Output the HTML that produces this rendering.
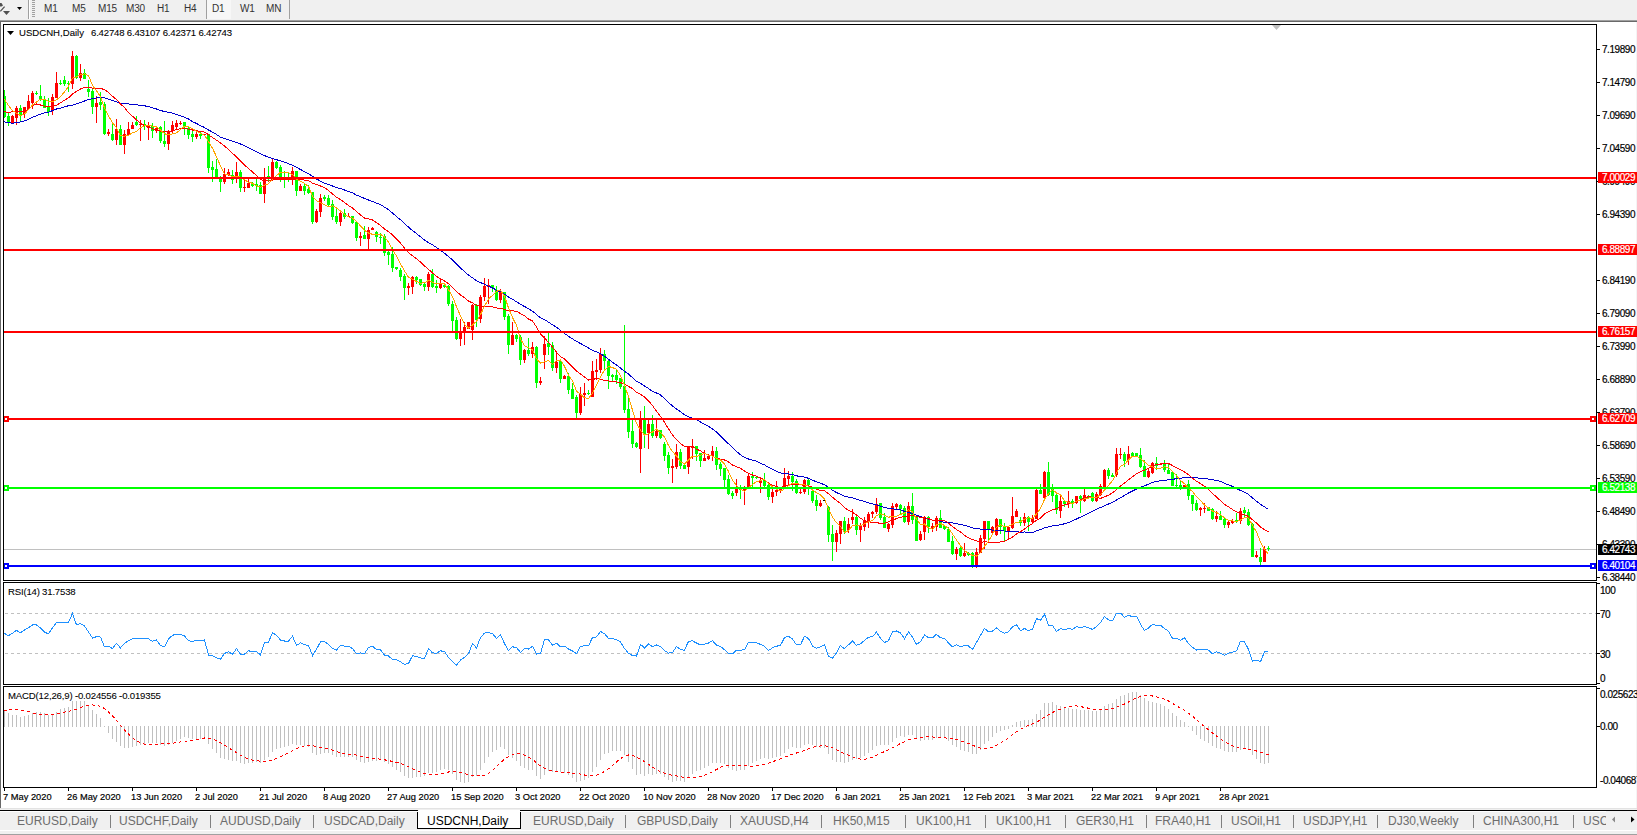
<!DOCTYPE html>
<html><head><meta charset="utf-8"><style>
*{margin:0;padding:0;box-sizing:border-box}
html,body{width:1637px;height:835px;overflow:hidden;background:#f0f0f0;font-family:"Liberation Sans",sans-serif;}
.ax{font-size:10px;letter-spacing:-0.44px;fill:#000;stroke:#000;stroke-width:0.18px;font-family:"Liberation Sans",sans-serif;}
.tt{font-size:9.6px;fill:#000;stroke:#000;stroke-width:0.08px;font-family:"Liberation Sans",sans-serif;}
#tb{position:absolute;left:0;top:0;width:1637px;height:19px;background:#f0f0f0}
.tbt{position:absolute;top:3px;font-size:10px;line-height:12px;color:#333;letter-spacing:-0.2px}
#cw{position:absolute;left:0;top:20px;width:1637px;height:789px;background:#fff;border-top:1px solid #a0a0a0}
#tabbar{position:absolute;left:0;top:810px;width:1637px;height:25px;background:#f0f0f0;border-top:1px solid #000}
.tab{position:absolute;top:3px;font-size:12px;line-height:14px;color:#6d6d6d;white-space:nowrap}
.tab.act{color:#000}
.sep{position:absolute;top:4px;width:1px;height:13px;background:#808080}
</style></head><body>
<div id="tb"><div class="tbt" style="left:44px">M1</div><div class="tbt" style="left:72px">M5</div><div class="tbt" style="left:98px">M15</div><div class="tbt" style="left:126px">M30</div><div class="tbt" style="left:157px">H1</div><div class="tbt" style="left:184px">H4</div><div class="tbt" style="left:212px">D1</div><div class="tbt" style="left:240px">W1</div><div class="tbt" style="left:266px">MN</div>
<svg width="40" height="19" style="position:absolute;left:0;top:0">
<polygon points="0,3 1.5,3 3,5.5 1.5,6.5 0,6.5" fill="#505050"/>
<line x1="0.3" y1="11.3" x2="4.6" y2="6.6" stroke="#505050" stroke-width="1.3"/>
<polygon points="3,11 10,11 6.5,15" fill="#505050"/>
<polygon points="17,7 22,7 19.5,10" fill="#000"/>
<g fill="#a0a0a0"><rect x="32" y="0" width="3" height="1"/><rect x="32" y="2" width="3" height="1"/><rect x="32" y="4" width="3" height="1"/><rect x="32" y="6" width="3" height="1"/><rect x="32" y="8" width="3" height="1"/><rect x="32" y="10" width="3" height="1"/><rect x="32" y="12" width="3" height="1"/><rect x="32" y="14" width="3" height="1"/><rect x="32" y="16" width="3" height="1"/></g>
</svg>
<div style="position:absolute;left:28px;top:0;width:1px;height:19px;background:#a0a0a0"></div>
<div style="position:absolute;left:29px;top:0;width:1px;height:19px;background:#fff"></div>
<div style="position:absolute;left:206px;top:0;width:25px;height:19px;background:#f7f7f7;border-left:1px solid #a0a0a0"></div>
<div class="tbt" style="left:212px">D1</div>
<div style="position:absolute;left:289px;top:0;width:1px;height:19px;background:#a0a0a0"></div>
</div>
<div id="cw">
<div style="position:absolute;left:0;top:0;width:1px;height:788px;background:#696969"></div>
<div style="position:absolute;left:0;top:0;width:1637px;height:1px;background:#696969"></div>
<div style="position:absolute;left:0;top:787px;width:1637px;height:1px;background:#e3e3e3"></div>
<div style="position:absolute;left:1636px;top:1px;width:1px;height:786px;background:#f4f4f4"></div>
</div>
<div id="tabbar">
<div style="position:absolute;left:417px;top:-1px;width:104px;height:19px;background:#fff;border:1px solid #000;border-top:none"></div>
<div class="tab" style="left:17px">EURUSD,Daily</div><div class="tab" style="left:119px">USDCHF,Daily</div><div class="tab" style="left:220px">AUDUSD,Daily</div><div class="tab" style="left:324px">USDCAD,Daily</div><div class="tab act" style="left:427px">USDCNH,Daily</div><div class="tab" style="left:533px">EURUSD,Daily</div><div class="tab" style="left:637px">GBPUSD,Daily</div><div class="tab" style="left:740px">XAUUSD,H4</div><div class="tab" style="left:833px">HK50,M15</div><div class="tab" style="left:916px">UK100,H1</div><div class="tab" style="left:996px">UK100,H1</div><div class="tab" style="left:1076px">GER30,H1</div><div class="tab" style="left:1155px">FRA40,H1</div><div class="tab" style="left:1231px">USOil,H1</div><div class="tab" style="left:1303px">USDJPY,H1</div><div class="tab" style="left:1388px">DJ30,Weekly</div><div class="tab" style="left:1483px">CHINA300,H1</div><div class="tab" style="left:1583px">USC</div><div class="sep" style="left:110px"></div><div class="sep" style="left:210px"></div><div class="sep" style="left:313px"></div><div class="sep" style="left:625px"></div><div class="sep" style="left:730px"></div><div class="sep" style="left:821px"></div><div class="sep" style="left:905px"></div><div class="sep" style="left:985px"></div><div class="sep" style="left:1065px"></div><div class="sep" style="left:1146px"></div><div class="sep" style="left:1221px"></div><div class="sep" style="left:1293px"></div><div class="sep" style="left:1377px"></div><div class="sep" style="left:1473px"></div><div class="sep" style="left:1573px"></div>
<div style="position:absolute;left:0;top:19px;width:1637px;height:1px;background:#fff"></div>
<div style="position:absolute;left:0;top:0;width:1637px;height:1px;background:#fff"></div>
<div style="position:absolute;left:1606px;top:0;width:31px;height:19px;background:#f0f0f0"></div>
<svg width="30" height="20" style="position:absolute;left:1607px;top:0"><polygon points="5,8.5 8,5.5 8,11.5" fill="#888"/><polygon points="24,5.5 24,11.5 27.5,8.5" fill="#000"/></svg>
<div style="position:absolute;left:0;top:23px;width:1637px;height:2px;background:#a0a0a0"></div>
</div>
<svg width="1637" height="835" style="position:absolute;left:0;top:0">
<g shape-rendering="crispEdges"><rect x="4" y="549" width="1592" height="1" fill="#c0c0c0"/><line x1="5" y1="613.5" x2="1596" y2="613.5" stroke="#c0c0c0" stroke-dasharray="3,3"/><line x1="5" y1="653.5" x2="1596" y2="653.5" stroke="#c0c0c0" stroke-dasharray="3,3"/><rect x="4" y="710" width="1" height="17" fill="#c0c0c0"/><rect x="8" y="713" width="1" height="14" fill="#c0c0c0"/><rect x="12" y="715" width="1" height="12" fill="#c0c0c0"/><rect x="16" y="715" width="1" height="12" fill="#c0c0c0"/><rect x="20" y="717" width="1" height="10" fill="#c0c0c0"/><rect x="24" y="716" width="1" height="11" fill="#c0c0c0"/><rect x="28" y="715" width="1" height="12" fill="#c0c0c0"/><rect x="32" y="713" width="1" height="14" fill="#c0c0c0"/><rect x="36" y="712" width="1" height="15" fill="#c0c0c0"/><rect x="40" y="712" width="1" height="15" fill="#c0c0c0"/><rect x="44" y="713" width="1" height="14" fill="#c0c0c0"/><rect x="48" y="715" width="1" height="12" fill="#c0c0c0"/><rect x="52" y="715" width="1" height="12" fill="#c0c0c0"/><rect x="56" y="712" width="1" height="15" fill="#c0c0c0"/><rect x="60" y="709" width="1" height="18" fill="#c0c0c0"/><rect x="64" y="708" width="1" height="19" fill="#c0c0c0"/><rect x="68" y="707" width="1" height="20" fill="#c0c0c0"/><rect x="72" y="701" width="1" height="26" fill="#c0c0c0"/><rect x="76" y="701" width="1" height="26" fill="#c0c0c0"/><rect x="80" y="701" width="1" height="26" fill="#c0c0c0"/><rect x="84" y="701" width="1" height="26" fill="#c0c0c0"/><rect x="88" y="705" width="1" height="22" fill="#c0c0c0"/><rect x="92" y="710" width="1" height="17" fill="#c0c0c0"/><rect x="96" y="714" width="1" height="13" fill="#c0c0c0"/><rect x="100" y="718" width="1" height="9" fill="#c0c0c0"/><rect x="104" y="726" width="1" height="1" fill="#c0c0c0"/><rect x="108" y="726" width="1" height="7" fill="#c0c0c0"/><rect x="112" y="726" width="1" height="13" fill="#c0c0c0"/><rect x="116" y="726" width="1" height="16" fill="#c0c0c0"/><rect x="120" y="726" width="1" height="20" fill="#c0c0c0"/><rect x="124" y="726" width="1" height="22" fill="#c0c0c0"/><rect x="128" y="726" width="1" height="22" fill="#c0c0c0"/><rect x="132" y="726" width="1" height="21" fill="#c0c0c0"/><rect x="136" y="726" width="1" height="20" fill="#c0c0c0"/><rect x="140" y="726" width="1" height="19" fill="#c0c0c0"/><rect x="144" y="726" width="1" height="18" fill="#c0c0c0"/><rect x="148" y="726" width="1" height="17" fill="#c0c0c0"/><rect x="152" y="726" width="1" height="17" fill="#c0c0c0"/><rect x="156" y="726" width="1" height="17" fill="#c0c0c0"/><rect x="160" y="726" width="1" height="19" fill="#c0c0c0"/><rect x="164" y="726" width="1" height="20" fill="#c0c0c0"/><rect x="168" y="726" width="1" height="19" fill="#c0c0c0"/><rect x="172" y="726" width="1" height="17" fill="#c0c0c0"/><rect x="176" y="726" width="1" height="15" fill="#c0c0c0"/><rect x="180" y="726" width="1" height="13" fill="#c0c0c0"/><rect x="184" y="726" width="1" height="11" fill="#c0c0c0"/><rect x="188" y="726" width="1" height="12" fill="#c0c0c0"/><rect x="192" y="726" width="1" height="13" fill="#c0c0c0"/><rect x="196" y="726" width="1" height="13" fill="#c0c0c0"/><rect x="200" y="726" width="1" height="13" fill="#c0c0c0"/><rect x="204" y="726" width="1" height="12" fill="#c0c0c0"/><rect x="208" y="726" width="1" height="18" fill="#c0c0c0"/><rect x="212" y="726" width="1" height="23" fill="#c0c0c0"/><rect x="216" y="726" width="1" height="27" fill="#c0c0c0"/><rect x="220" y="726" width="1" height="32" fill="#c0c0c0"/><rect x="224" y="726" width="1" height="33" fill="#c0c0c0"/><rect x="228" y="726" width="1" height="34" fill="#c0c0c0"/><rect x="232" y="726" width="1" height="35" fill="#c0c0c0"/><rect x="236" y="726" width="1" height="35" fill="#c0c0c0"/><rect x="240" y="726" width="1" height="37" fill="#c0c0c0"/><rect x="244" y="726" width="1" height="38" fill="#c0c0c0"/><rect x="248" y="726" width="1" height="37" fill="#c0c0c0"/><rect x="252" y="726" width="1" height="37" fill="#c0c0c0"/><rect x="256" y="726" width="1" height="36" fill="#c0c0c0"/><rect x="260" y="726" width="1" height="37" fill="#c0c0c0"/><rect x="264" y="726" width="1" height="34" fill="#c0c0c0"/><rect x="268" y="726" width="1" height="31" fill="#c0c0c0"/><rect x="272" y="726" width="1" height="26" fill="#c0c0c0"/><rect x="276" y="726" width="1" height="23" fill="#c0c0c0"/><rect x="280" y="726" width="1" height="22" fill="#c0c0c0"/><rect x="284" y="726" width="1" height="21" fill="#c0c0c0"/><rect x="288" y="726" width="1" height="20" fill="#c0c0c0"/><rect x="292" y="726" width="1" height="18" fill="#c0c0c0"/><rect x="296" y="726" width="1" height="19" fill="#c0c0c0"/><rect x="300" y="726" width="1" height="19" fill="#c0c0c0"/><rect x="304" y="726" width="1" height="20" fill="#c0c0c0"/><rect x="308" y="726" width="1" height="21" fill="#c0c0c0"/><rect x="312" y="726" width="1" height="27" fill="#c0c0c0"/><rect x="316" y="726" width="1" height="29" fill="#c0c0c0"/><rect x="320" y="726" width="1" height="28" fill="#c0c0c0"/><rect x="324" y="726" width="1" height="27" fill="#c0c0c0"/><rect x="328" y="726" width="1" height="27" fill="#c0c0c0"/><rect x="332" y="726" width="1" height="29" fill="#c0c0c0"/><rect x="336" y="726" width="1" height="31" fill="#c0c0c0"/><rect x="340" y="726" width="1" height="31" fill="#c0c0c0"/><rect x="344" y="726" width="1" height="31" fill="#c0c0c0"/><rect x="348" y="726" width="1" height="31" fill="#c0c0c0"/><rect x="352" y="726" width="1" height="31" fill="#c0c0c0"/><rect x="356" y="726" width="1" height="34" fill="#c0c0c0"/><rect x="360" y="726" width="1" height="36" fill="#c0c0c0"/><rect x="364" y="726" width="1" height="37" fill="#c0c0c0"/><rect x="368" y="726" width="1" height="36" fill="#c0c0c0"/><rect x="372" y="726" width="1" height="35" fill="#c0c0c0"/><rect x="376" y="726" width="1" height="35" fill="#c0c0c0"/><rect x="380" y="726" width="1" height="34" fill="#c0c0c0"/><rect x="384" y="726" width="1" height="36" fill="#c0c0c0"/><rect x="388" y="726" width="1" height="38" fill="#c0c0c0"/><rect x="392" y="726" width="1" height="41" fill="#c0c0c0"/><rect x="396" y="726" width="1" height="44" fill="#c0c0c0"/><rect x="400" y="726" width="1" height="46" fill="#c0c0c0"/><rect x="404" y="726" width="1" height="50" fill="#c0c0c0"/><rect x="408" y="726" width="1" height="52" fill="#c0c0c0"/><rect x="412" y="726" width="1" height="52" fill="#c0c0c0"/><rect x="416" y="726" width="1" height="51" fill="#c0c0c0"/><rect x="420" y="726" width="1" height="51" fill="#c0c0c0"/><rect x="424" y="726" width="1" height="50" fill="#c0c0c0"/><rect x="428" y="726" width="1" height="47" fill="#c0c0c0"/><rect x="432" y="726" width="1" height="47" fill="#c0c0c0"/><rect x="436" y="726" width="1" height="46" fill="#c0c0c0"/><rect x="440" y="726" width="1" height="44" fill="#c0c0c0"/><rect x="444" y="726" width="1" height="43" fill="#c0c0c0"/><rect x="448" y="726" width="1" height="44" fill="#c0c0c0"/><rect x="452" y="726" width="1" height="48" fill="#c0c0c0"/><rect x="456" y="726" width="1" height="54" fill="#c0c0c0"/><rect x="460" y="726" width="1" height="56" fill="#c0c0c0"/><rect x="464" y="726" width="1" height="57" fill="#c0c0c0"/><rect x="468" y="726" width="1" height="56" fill="#c0c0c0"/><rect x="472" y="726" width="1" height="51" fill="#c0c0c0"/><rect x="476" y="726" width="1" height="50" fill="#c0c0c0"/><rect x="480" y="726" width="1" height="44" fill="#c0c0c0"/><rect x="484" y="726" width="1" height="37" fill="#c0c0c0"/><rect x="488" y="726" width="1" height="31" fill="#c0c0c0"/><rect x="492" y="726" width="1" height="26" fill="#c0c0c0"/><rect x="496" y="726" width="1" height="24" fill="#c0c0c0"/><rect x="500" y="726" width="1" height="21" fill="#c0c0c0"/><rect x="504" y="726" width="1" height="23" fill="#c0c0c0"/><rect x="508" y="726" width="1" height="29" fill="#c0c0c0"/><rect x="512" y="726" width="1" height="32" fill="#c0c0c0"/><rect x="516" y="726" width="1" height="35" fill="#c0c0c0"/><rect x="520" y="726" width="1" height="40" fill="#c0c0c0"/><rect x="524" y="726" width="1" height="42" fill="#c0c0c0"/><rect x="528" y="726" width="1" height="44" fill="#c0c0c0"/><rect x="532" y="726" width="1" height="44" fill="#c0c0c0"/><rect x="536" y="726" width="1" height="50" fill="#c0c0c0"/><rect x="540" y="726" width="1" height="53" fill="#c0c0c0"/><rect x="544" y="726" width="1" height="49" fill="#c0c0c0"/><rect x="548" y="726" width="1" height="45" fill="#c0c0c0"/><rect x="552" y="726" width="1" height="46" fill="#c0c0c0"/><rect x="556" y="726" width="1" height="45" fill="#c0c0c0"/><rect x="560" y="726" width="1" height="46" fill="#c0c0c0"/><rect x="564" y="726" width="1" height="47" fill="#c0c0c0"/><rect x="568" y="726" width="1" height="49" fill="#c0c0c0"/><rect x="572" y="726" width="1" height="52" fill="#c0c0c0"/><rect x="576" y="726" width="1" height="56" fill="#c0c0c0"/><rect x="580" y="726" width="1" height="55" fill="#c0c0c0"/><rect x="584" y="726" width="1" height="54" fill="#c0c0c0"/><rect x="588" y="726" width="1" height="52" fill="#c0c0c0"/><rect x="592" y="726" width="1" height="46" fill="#c0c0c0"/><rect x="596" y="726" width="1" height="41" fill="#c0c0c0"/><rect x="600" y="726" width="1" height="34" fill="#c0c0c0"/><rect x="604" y="726" width="1" height="28" fill="#c0c0c0"/><rect x="608" y="726" width="1" height="27" fill="#c0c0c0"/><rect x="612" y="726" width="1" height="25" fill="#c0c0c0"/><rect x="616" y="726" width="1" height="25" fill="#c0c0c0"/><rect x="620" y="726" width="1" height="25" fill="#c0c0c0"/><rect x="624" y="726" width="1" height="29" fill="#c0c0c0"/><rect x="628" y="726" width="1" height="36" fill="#c0c0c0"/><rect x="632" y="726" width="1" height="43" fill="#c0c0c0"/><rect x="636" y="726" width="1" height="49" fill="#c0c0c0"/><rect x="640" y="726" width="1" height="48" fill="#c0c0c0"/><rect x="644" y="726" width="1" height="50" fill="#c0c0c0"/><rect x="648" y="726" width="1" height="48" fill="#c0c0c0"/><rect x="652" y="726" width="1" height="49" fill="#c0c0c0"/><rect x="656" y="726" width="1" height="48" fill="#c0c0c0"/><rect x="660" y="726" width="1" height="48" fill="#c0c0c0"/><rect x="664" y="726" width="1" height="51" fill="#c0c0c0"/><rect x="668" y="726" width="1" height="54" fill="#c0c0c0"/><rect x="672" y="726" width="1" height="56" fill="#c0c0c0"/><rect x="676" y="726" width="1" height="55" fill="#c0c0c0"/><rect x="680" y="726" width="1" height="55" fill="#c0c0c0"/><rect x="684" y="726" width="1" height="56" fill="#c0c0c0"/><rect x="688" y="726" width="1" height="52" fill="#c0c0c0"/><rect x="692" y="726" width="1" height="48" fill="#c0c0c0"/><rect x="696" y="726" width="1" height="45" fill="#c0c0c0"/><rect x="700" y="726" width="1" height="44" fill="#c0c0c0"/><rect x="704" y="726" width="1" height="42" fill="#c0c0c0"/><rect x="708" y="726" width="1" height="40" fill="#c0c0c0"/><rect x="712" y="726" width="1" height="37" fill="#c0c0c0"/><rect x="716" y="726" width="1" height="37" fill="#c0c0c0"/><rect x="720" y="726" width="1" height="37" fill="#c0c0c0"/><rect x="724" y="726" width="1" height="38" fill="#c0c0c0"/><rect x="728" y="726" width="1" height="42" fill="#c0c0c0"/><rect x="732" y="726" width="1" height="44" fill="#c0c0c0"/><rect x="736" y="726" width="1" height="45" fill="#c0c0c0"/><rect x="740" y="726" width="1" height="44" fill="#c0c0c0"/><rect x="744" y="726" width="1" height="44" fill="#c0c0c0"/><rect x="748" y="726" width="1" height="40" fill="#c0c0c0"/><rect x="752" y="726" width="1" height="37" fill="#c0c0c0"/><rect x="756" y="726" width="1" height="35" fill="#c0c0c0"/><rect x="760" y="726" width="1" height="33" fill="#c0c0c0"/><rect x="764" y="726" width="1" height="32" fill="#c0c0c0"/><rect x="768" y="726" width="1" height="33" fill="#c0c0c0"/><rect x="772" y="726" width="1" height="32" fill="#c0c0c0"/><rect x="776" y="726" width="1" height="31" fill="#c0c0c0"/><rect x="780" y="726" width="1" height="30" fill="#c0c0c0"/><rect x="784" y="726" width="1" height="27" fill="#c0c0c0"/><rect x="788" y="726" width="1" height="23" fill="#c0c0c0"/><rect x="792" y="726" width="1" height="21" fill="#c0c0c0"/><rect x="796" y="726" width="1" height="22" fill="#c0c0c0"/><rect x="800" y="726" width="1" height="22" fill="#c0c0c0"/><rect x="804" y="726" width="1" height="19" fill="#c0c0c0"/><rect x="808" y="726" width="1" height="18" fill="#c0c0c0"/><rect x="812" y="726" width="1" height="19" fill="#c0c0c0"/><rect x="816" y="726" width="1" height="21" fill="#c0c0c0"/><rect x="820" y="726" width="1" height="22" fill="#c0c0c0"/><rect x="824" y="726" width="1" height="22" fill="#c0c0c0"/><rect x="828" y="726" width="1" height="28" fill="#c0c0c0"/><rect x="832" y="726" width="1" height="34" fill="#c0c0c0"/><rect x="836" y="726" width="1" height="36" fill="#c0c0c0"/><rect x="840" y="726" width="1" height="36" fill="#c0c0c0"/><rect x="844" y="726" width="1" height="37" fill="#c0c0c0"/><rect x="848" y="726" width="1" height="36" fill="#c0c0c0"/><rect x="852" y="726" width="1" height="34" fill="#c0c0c0"/><rect x="856" y="726" width="1" height="33" fill="#c0c0c0"/><rect x="860" y="726" width="1" height="32" fill="#c0c0c0"/><rect x="864" y="726" width="1" height="30" fill="#c0c0c0"/><rect x="868" y="726" width="1" height="27" fill="#c0c0c0"/><rect x="872" y="726" width="1" height="24" fill="#c0c0c0"/><rect x="876" y="726" width="1" height="20" fill="#c0c0c0"/><rect x="880" y="726" width="1" height="19" fill="#c0c0c0"/><rect x="884" y="726" width="1" height="19" fill="#c0c0c0"/><rect x="888" y="726" width="1" height="19" fill="#c0c0c0"/><rect x="892" y="726" width="1" height="16" fill="#c0c0c0"/><rect x="896" y="726" width="1" height="12" fill="#c0c0c0"/><rect x="900" y="726" width="1" height="10" fill="#c0c0c0"/><rect x="904" y="726" width="1" height="11" fill="#c0c0c0"/><rect x="908" y="726" width="1" height="9" fill="#c0c0c0"/><rect x="912" y="726" width="1" height="9" fill="#c0c0c0"/><rect x="916" y="726" width="1" height="13" fill="#c0c0c0"/><rect x="920" y="726" width="1" height="15" fill="#c0c0c0"/><rect x="924" y="726" width="1" height="14" fill="#c0c0c0"/><rect x="928" y="726" width="1" height="14" fill="#c0c0c0"/><rect x="932" y="726" width="1" height="14" fill="#c0c0c0"/><rect x="936" y="726" width="1" height="12" fill="#c0c0c0"/><rect x="940" y="726" width="1" height="12" fill="#c0c0c0"/><rect x="944" y="726" width="1" height="12" fill="#c0c0c0"/><rect x="948" y="726" width="1" height="15" fill="#c0c0c0"/><rect x="952" y="726" width="1" height="19" fill="#c0c0c0"/><rect x="956" y="726" width="1" height="21" fill="#c0c0c0"/><rect x="960" y="726" width="1" height="24" fill="#c0c0c0"/><rect x="964" y="726" width="1" height="25" fill="#c0c0c0"/><rect x="968" y="726" width="1" height="26" fill="#c0c0c0"/><rect x="972" y="726" width="1" height="28" fill="#c0c0c0"/><rect x="976" y="726" width="1" height="28" fill="#c0c0c0"/><rect x="980" y="726" width="1" height="24" fill="#c0c0c0"/><rect x="984" y="726" width="1" height="18" fill="#c0c0c0"/><rect x="988" y="726" width="1" height="15" fill="#c0c0c0"/><rect x="992" y="726" width="1" height="11" fill="#c0c0c0"/><rect x="996" y="726" width="1" height="7" fill="#c0c0c0"/><rect x="1000" y="726" width="1" height="5" fill="#c0c0c0"/><rect x="1004" y="726" width="1" height="4" fill="#c0c0c0"/><rect x="1008" y="726" width="1" height="3" fill="#c0c0c0"/><rect x="1012" y="725" width="1" height="2" fill="#c0c0c0"/><rect x="1016" y="722" width="1" height="5" fill="#c0c0c0"/><rect x="1020" y="721" width="1" height="6" fill="#c0c0c0"/><rect x="1024" y="720" width="1" height="7" fill="#c0c0c0"/><rect x="1028" y="720" width="1" height="7" fill="#c0c0c0"/><rect x="1032" y="719" width="1" height="8" fill="#c0c0c0"/><rect x="1036" y="714" width="1" height="13" fill="#c0c0c0"/><rect x="1040" y="710" width="1" height="17" fill="#c0c0c0"/><rect x="1044" y="703" width="1" height="24" fill="#c0c0c0"/><rect x="1048" y="703" width="1" height="24" fill="#c0c0c0"/><rect x="1052" y="702" width="1" height="25" fill="#c0c0c0"/><rect x="1056" y="705" width="1" height="22" fill="#c0c0c0"/><rect x="1060" y="706" width="1" height="21" fill="#c0c0c0"/><rect x="1064" y="707" width="1" height="20" fill="#c0c0c0"/><rect x="1068" y="708" width="1" height="19" fill="#c0c0c0"/><rect x="1072" y="709" width="1" height="18" fill="#c0c0c0"/><rect x="1076" y="709" width="1" height="18" fill="#c0c0c0"/><rect x="1080" y="710" width="1" height="17" fill="#c0c0c0"/><rect x="1084" y="710" width="1" height="17" fill="#c0c0c0"/><rect x="1088" y="710" width="1" height="17" fill="#c0c0c0"/><rect x="1092" y="711" width="1" height="16" fill="#c0c0c0"/><rect x="1096" y="711" width="1" height="16" fill="#c0c0c0"/><rect x="1100" y="710" width="1" height="17" fill="#c0c0c0"/><rect x="1104" y="706" width="1" height="21" fill="#c0c0c0"/><rect x="1108" y="704" width="1" height="23" fill="#c0c0c0"/><rect x="1112" y="703" width="1" height="24" fill="#c0c0c0"/><rect x="1116" y="699" width="1" height="28" fill="#c0c0c0"/><rect x="1120" y="696" width="1" height="31" fill="#c0c0c0"/><rect x="1124" y="695" width="1" height="32" fill="#c0c0c0"/><rect x="1128" y="693" width="1" height="34" fill="#c0c0c0"/><rect x="1132" y="692" width="1" height="35" fill="#c0c0c0"/><rect x="1136" y="692" width="1" height="35" fill="#c0c0c0"/><rect x="1140" y="695" width="1" height="32" fill="#c0c0c0"/><rect x="1144" y="698" width="1" height="29" fill="#c0c0c0"/><rect x="1148" y="701" width="1" height="26" fill="#c0c0c0"/><rect x="1152" y="702" width="1" height="25" fill="#c0c0c0"/><rect x="1156" y="703" width="1" height="24" fill="#c0c0c0"/><rect x="1160" y="704" width="1" height="23" fill="#c0c0c0"/><rect x="1164" y="706" width="1" height="21" fill="#c0c0c0"/><rect x="1168" y="709" width="1" height="18" fill="#c0c0c0"/><rect x="1172" y="713" width="1" height="14" fill="#c0c0c0"/><rect x="1176" y="716" width="1" height="11" fill="#c0c0c0"/><rect x="1180" y="720" width="1" height="7" fill="#c0c0c0"/><rect x="1184" y="722" width="1" height="5" fill="#c0c0c0"/><rect x="1188" y="726" width="1" height="1" fill="#c0c0c0"/><rect x="1192" y="726" width="1" height="5" fill="#c0c0c0"/><rect x="1196" y="726" width="1" height="9" fill="#c0c0c0"/><rect x="1200" y="726" width="1" height="13" fill="#c0c0c0"/><rect x="1204" y="726" width="1" height="15" fill="#c0c0c0"/><rect x="1208" y="726" width="1" height="17" fill="#c0c0c0"/><rect x="1212" y="726" width="1" height="20" fill="#c0c0c0"/><rect x="1216" y="726" width="1" height="22" fill="#c0c0c0"/><rect x="1220" y="726" width="1" height="23" fill="#c0c0c0"/><rect x="1224" y="726" width="1" height="25" fill="#c0c0c0"/><rect x="1228" y="726" width="1" height="26" fill="#c0c0c0"/><rect x="1232" y="726" width="1" height="26" fill="#c0c0c0"/><rect x="1236" y="726" width="1" height="26" fill="#c0c0c0"/><rect x="1240" y="726" width="1" height="24" fill="#c0c0c0"/><rect x="1244" y="726" width="1" height="22" fill="#c0c0c0"/><rect x="1248" y="726" width="1" height="23" fill="#c0c0c0"/><rect x="1252" y="726" width="1" height="29" fill="#c0c0c0"/><rect x="1256" y="726" width="1" height="33" fill="#c0c0c0"/><rect x="1260" y="726" width="1" height="37" fill="#c0c0c0"/><rect x="1264" y="726" width="1" height="38" fill="#c0c0c0"/><rect x="1268" y="726" width="1" height="37" fill="#c0c0c0"/></g>
<g shape-rendering="crispEdges"><rect x="4" y="90" width="1" height="28" fill="#00ff00"/><rect x="3" y="96" width="3" height="21" fill="#00ff00"/><rect x="8" y="113" width="1" height="13" fill="#00ff00"/><rect x="7" y="116" width="3" height="7" fill="#00ff00"/><rect x="12" y="115" width="1" height="8" fill="#ff0000"/><rect x="11" y="116" width="3" height="7" fill="#ff0000"/><rect x="16" y="106" width="1" height="19" fill="#ff0000"/><rect x="15" y="108" width="3" height="10" fill="#ff0000"/><rect x="20" y="105" width="1" height="16" fill="#00ff00"/><rect x="19" y="108" width="3" height="7" fill="#00ff00"/><rect x="24" y="107" width="1" height="11" fill="#ff0000"/><rect x="23" y="107" width="3" height="7" fill="#ff0000"/><rect x="28" y="95" width="1" height="14" fill="#ff0000"/><rect x="27" y="101" width="3" height="8" fill="#ff0000"/><rect x="32" y="91" width="1" height="18" fill="#ff0000"/><rect x="31" y="93" width="3" height="10" fill="#ff0000"/><rect x="36" y="91" width="1" height="4" fill="#00ff00"/><rect x="35" y="93" width="3" height="1" fill="#00ff00"/><rect x="40" y="85" width="1" height="16" fill="#00ff00"/><rect x="39" y="96" width="3" height="4" fill="#00ff00"/><rect x="44" y="96" width="1" height="12" fill="#00ff00"/><rect x="43" y="100" width="3" height="8" fill="#00ff00"/><rect x="48" y="98" width="1" height="18" fill="#00ff00"/><rect x="47" y="106" width="3" height="6" fill="#00ff00"/><rect x="52" y="94" width="1" height="21" fill="#ff0000"/><rect x="51" y="97" width="3" height="14" fill="#ff0000"/><rect x="56" y="72" width="1" height="26" fill="#ff0000"/><rect x="55" y="83" width="3" height="15" fill="#ff0000"/><rect x="60" y="80" width="1" height="5" fill="#00ff00"/><rect x="59" y="83" width="3" height="1" fill="#00ff00"/><rect x="64" y="76" width="1" height="10" fill="#00ff00"/><rect x="63" y="80" width="3" height="4" fill="#00ff00"/><rect x="68" y="81" width="1" height="11" fill="#00ff00"/><rect x="67" y="83" width="3" height="1" fill="#00ff00"/><rect x="72" y="51" width="1" height="38" fill="#ff0000"/><rect x="71" y="56" width="3" height="28" fill="#ff0000"/><rect x="76" y="55" width="1" height="24" fill="#00ff00"/><rect x="75" y="56" width="3" height="22" fill="#00ff00"/><rect x="80" y="64" width="1" height="17" fill="#ff0000"/><rect x="79" y="73" width="3" height="5" fill="#ff0000"/><rect x="84" y="69" width="1" height="10" fill="#00ff00"/><rect x="83" y="73" width="3" height="6" fill="#00ff00"/><rect x="88" y="80" width="1" height="17" fill="#00ff00"/><rect x="87" y="89" width="3" height="3" fill="#00ff00"/><rect x="92" y="89" width="1" height="25" fill="#00ff00"/><rect x="91" y="91" width="3" height="16" fill="#00ff00"/><rect x="96" y="96" width="1" height="27" fill="#ff0000"/><rect x="95" y="103" width="3" height="4" fill="#ff0000"/><rect x="100" y="92" width="1" height="18" fill="#00ff00"/><rect x="99" y="102" width="3" height="3" fill="#00ff00"/><rect x="104" y="102" width="1" height="33" fill="#00ff00"/><rect x="103" y="104" width="3" height="30" fill="#00ff00"/><rect x="108" y="129" width="1" height="7" fill="#ff0000"/><rect x="107" y="132" width="3" height="2" fill="#ff0000"/><rect x="112" y="123" width="1" height="18" fill="#00ff00"/><rect x="111" y="134" width="3" height="6" fill="#00ff00"/><rect x="116" y="119" width="1" height="26" fill="#ff0000"/><rect x="115" y="129" width="3" height="11" fill="#ff0000"/><rect x="120" y="125" width="1" height="20" fill="#00ff00"/><rect x="119" y="129" width="3" height="16" fill="#00ff00"/><rect x="124" y="130" width="1" height="24" fill="#ff0000"/><rect x="123" y="134" width="3" height="11" fill="#ff0000"/><rect x="128" y="122" width="1" height="13" fill="#ff0000"/><rect x="127" y="129" width="3" height="6" fill="#ff0000"/><rect x="132" y="122" width="1" height="7" fill="#ff0000"/><rect x="131" y="125" width="3" height="4" fill="#ff0000"/><rect x="136" y="116" width="1" height="10" fill="#00ff00"/><rect x="135" y="122" width="3" height="3" fill="#00ff00"/><rect x="140" y="120" width="1" height="21" fill="#ff0000"/><rect x="139" y="124" width="3" height="1" fill="#ff0000"/><rect x="144" y="120" width="1" height="10" fill="#00ff00"/><rect x="143" y="124" width="3" height="2" fill="#00ff00"/><rect x="148" y="122" width="1" height="18" fill="#ff0000"/><rect x="147" y="125" width="3" height="3" fill="#ff0000"/><rect x="152" y="123" width="1" height="15" fill="#00ff00"/><rect x="151" y="126" width="3" height="5" fill="#00ff00"/><rect x="156" y="128" width="1" height="5" fill="#ff0000"/><rect x="155" y="128" width="3" height="3" fill="#ff0000"/><rect x="160" y="126" width="1" height="17" fill="#00ff00"/><rect x="159" y="127" width="3" height="14" fill="#00ff00"/><rect x="164" y="121" width="1" height="26" fill="#00ff00"/><rect x="163" y="141" width="3" height="3" fill="#00ff00"/><rect x="168" y="130" width="1" height="20" fill="#ff0000"/><rect x="167" y="131" width="3" height="13" fill="#ff0000"/><rect x="172" y="121" width="1" height="13" fill="#ff0000"/><rect x="171" y="125" width="3" height="6" fill="#ff0000"/><rect x="176" y="120" width="1" height="9" fill="#ff0000"/><rect x="175" y="123" width="3" height="4" fill="#ff0000"/><rect x="180" y="121" width="1" height="4" fill="#ff0000"/><rect x="179" y="123" width="3" height="1" fill="#ff0000"/><rect x="184" y="122" width="1" height="13" fill="#00ff00"/><rect x="183" y="122" width="3" height="5" fill="#00ff00"/><rect x="188" y="126" width="1" height="13" fill="#00ff00"/><rect x="187" y="128" width="3" height="7" fill="#00ff00"/><rect x="192" y="131" width="1" height="11" fill="#00ff00"/><rect x="191" y="134" width="3" height="3" fill="#00ff00"/><rect x="196" y="130" width="1" height="9" fill="#ff0000"/><rect x="195" y="134" width="3" height="3" fill="#ff0000"/><rect x="200" y="132" width="1" height="7" fill="#00ff00"/><rect x="199" y="134" width="3" height="2" fill="#00ff00"/><rect x="204" y="134" width="1" height="2" fill="#ff0000"/><rect x="203" y="134" width="3" height="1" fill="#ff0000"/><rect x="208" y="134" width="1" height="39" fill="#00ff00"/><rect x="207" y="134" width="3" height="34" fill="#00ff00"/><rect x="212" y="161" width="1" height="21" fill="#00ff00"/><rect x="211" y="167" width="3" height="3" fill="#00ff00"/><rect x="216" y="159" width="1" height="18" fill="#00ff00"/><rect x="215" y="169" width="3" height="8" fill="#00ff00"/><rect x="220" y="176" width="1" height="16" fill="#00ff00"/><rect x="219" y="178" width="3" height="4" fill="#00ff00"/><rect x="224" y="168" width="1" height="16" fill="#ff0000"/><rect x="223" y="174" width="3" height="8" fill="#ff0000"/><rect x="228" y="169" width="1" height="7" fill="#ff0000"/><rect x="227" y="172" width="3" height="3" fill="#ff0000"/><rect x="232" y="170" width="1" height="14" fill="#00ff00"/><rect x="231" y="175" width="3" height="5" fill="#00ff00"/><rect x="236" y="162" width="1" height="21" fill="#ff0000"/><rect x="235" y="172" width="3" height="7" fill="#ff0000"/><rect x="240" y="170" width="1" height="22" fill="#00ff00"/><rect x="239" y="172" width="3" height="16" fill="#00ff00"/><rect x="244" y="180" width="1" height="12" fill="#ff0000"/><rect x="243" y="187" width="3" height="1" fill="#ff0000"/><rect x="248" y="179" width="1" height="9" fill="#ff0000"/><rect x="247" y="183" width="3" height="5" fill="#ff0000"/><rect x="252" y="182" width="1" height="5" fill="#00ff00"/><rect x="251" y="184" width="3" height="2" fill="#00ff00"/><rect x="256" y="179" width="1" height="12" fill="#00ff00"/><rect x="255" y="184" width="3" height="2" fill="#00ff00"/><rect x="260" y="182" width="1" height="12" fill="#00ff00"/><rect x="259" y="185" width="3" height="9" fill="#00ff00"/><rect x="264" y="168" width="1" height="35" fill="#ff0000"/><rect x="263" y="177" width="3" height="17" fill="#ff0000"/><rect x="268" y="166" width="1" height="15" fill="#00ff00"/><rect x="267" y="176" width="3" height="2" fill="#00ff00"/><rect x="272" y="159" width="1" height="21" fill="#ff0000"/><rect x="271" y="162" width="3" height="18" fill="#ff0000"/><rect x="276" y="161" width="1" height="8" fill="#00ff00"/><rect x="275" y="162" width="3" height="6" fill="#00ff00"/><rect x="280" y="165" width="1" height="17" fill="#00ff00"/><rect x="279" y="167" width="3" height="10" fill="#00ff00"/><rect x="284" y="171" width="1" height="17" fill="#00ff00"/><rect x="283" y="177" width="3" height="2" fill="#00ff00"/><rect x="288" y="173" width="1" height="9" fill="#00ff00"/><rect x="287" y="177" width="3" height="2" fill="#00ff00"/><rect x="292" y="167" width="1" height="18" fill="#ff0000"/><rect x="291" y="171" width="3" height="7" fill="#ff0000"/><rect x="296" y="171" width="1" height="25" fill="#00ff00"/><rect x="295" y="171" width="3" height="20" fill="#00ff00"/><rect x="300" y="184" width="1" height="7" fill="#ff0000"/><rect x="299" y="186" width="3" height="5" fill="#ff0000"/><rect x="304" y="184" width="1" height="11" fill="#00ff00"/><rect x="303" y="186" width="3" height="5" fill="#00ff00"/><rect x="308" y="185" width="1" height="9" fill="#00ff00"/><rect x="307" y="189" width="3" height="4" fill="#00ff00"/><rect x="312" y="192" width="1" height="32" fill="#00ff00"/><rect x="311" y="192" width="3" height="30" fill="#00ff00"/><rect x="316" y="209" width="1" height="14" fill="#ff0000"/><rect x="315" y="211" width="3" height="11" fill="#ff0000"/><rect x="320" y="194" width="1" height="23" fill="#ff0000"/><rect x="319" y="198" width="3" height="14" fill="#ff0000"/><rect x="324" y="195" width="1" height="6" fill="#00ff00"/><rect x="323" y="197" width="3" height="2" fill="#00ff00"/><rect x="328" y="195" width="1" height="11" fill="#00ff00"/><rect x="327" y="198" width="3" height="7" fill="#00ff00"/><rect x="332" y="200" width="1" height="20" fill="#00ff00"/><rect x="331" y="204" width="3" height="13" fill="#00ff00"/><rect x="336" y="208" width="1" height="16" fill="#00ff00"/><rect x="335" y="216" width="3" height="6" fill="#00ff00"/><rect x="340" y="212" width="1" height="14" fill="#ff0000"/><rect x="339" y="213" width="3" height="9" fill="#ff0000"/><rect x="344" y="209" width="1" height="10" fill="#00ff00"/><rect x="343" y="213" width="3" height="4" fill="#00ff00"/><rect x="348" y="213" width="1" height="4" fill="#ff0000"/><rect x="347" y="216" width="3" height="1" fill="#ff0000"/><rect x="352" y="216" width="1" height="8" fill="#00ff00"/><rect x="351" y="216" width="3" height="7" fill="#00ff00"/><rect x="356" y="222" width="1" height="19" fill="#00ff00"/><rect x="355" y="222" width="3" height="16" fill="#00ff00"/><rect x="360" y="232" width="1" height="14" fill="#ff0000"/><rect x="359" y="236" width="3" height="2" fill="#ff0000"/><rect x="364" y="226" width="1" height="13" fill="#00ff00"/><rect x="363" y="235" width="3" height="4" fill="#00ff00"/><rect x="368" y="227" width="1" height="22" fill="#ff0000"/><rect x="367" y="230" width="3" height="9" fill="#ff0000"/><rect x="372" y="227" width="1" height="3" fill="#ff0000"/><rect x="371" y="228" width="3" height="2" fill="#ff0000"/><rect x="376" y="231" width="1" height="11" fill="#00ff00"/><rect x="375" y="232" width="3" height="5" fill="#00ff00"/><rect x="380" y="233" width="1" height="11" fill="#00ff00"/><rect x="379" y="237" width="3" height="1" fill="#00ff00"/><rect x="384" y="234" width="1" height="22" fill="#00ff00"/><rect x="383" y="236" width="3" height="17" fill="#00ff00"/><rect x="388" y="251" width="1" height="14" fill="#00ff00"/><rect x="387" y="252" width="3" height="3" fill="#00ff00"/><rect x="392" y="247" width="1" height="25" fill="#00ff00"/><rect x="391" y="254" width="3" height="14" fill="#00ff00"/><rect x="396" y="267" width="1" height="3" fill="#00ff00"/><rect x="395" y="267" width="3" height="2" fill="#00ff00"/><rect x="400" y="268" width="1" height="13" fill="#00ff00"/><rect x="399" y="270" width="3" height="7" fill="#00ff00"/><rect x="404" y="274" width="1" height="26" fill="#00ff00"/><rect x="403" y="276" width="3" height="12" fill="#00ff00"/><rect x="408" y="283" width="1" height="12" fill="#ff0000"/><rect x="407" y="286" width="3" height="2" fill="#ff0000"/><rect x="412" y="276" width="1" height="18" fill="#ff0000"/><rect x="411" y="277" width="3" height="10" fill="#ff0000"/><rect x="416" y="276" width="1" height="8" fill="#00ff00"/><rect x="415" y="277" width="3" height="3" fill="#00ff00"/><rect x="420" y="279" width="1" height="7" fill="#00ff00"/><rect x="419" y="279" width="3" height="6" fill="#00ff00"/><rect x="424" y="282" width="1" height="9" fill="#00ff00"/><rect x="423" y="284" width="3" height="3" fill="#00ff00"/><rect x="428" y="272" width="1" height="19" fill="#ff0000"/><rect x="427" y="274" width="3" height="13" fill="#ff0000"/><rect x="432" y="269" width="1" height="19" fill="#00ff00"/><rect x="431" y="274" width="3" height="13" fill="#00ff00"/><rect x="436" y="280" width="1" height="13" fill="#00ff00"/><rect x="435" y="286" width="3" height="2" fill="#00ff00"/><rect x="440" y="278" width="1" height="11" fill="#ff0000"/><rect x="439" y="284" width="3" height="4" fill="#ff0000"/><rect x="444" y="285" width="1" height="3" fill="#00ff00"/><rect x="443" y="285" width="3" height="2" fill="#00ff00"/><rect x="448" y="285" width="1" height="21" fill="#00ff00"/><rect x="447" y="286" width="3" height="18" fill="#00ff00"/><rect x="452" y="301" width="1" height="30" fill="#00ff00"/><rect x="451" y="304" width="3" height="17" fill="#00ff00"/><rect x="456" y="317" width="1" height="23" fill="#00ff00"/><rect x="455" y="320" width="3" height="19" fill="#00ff00"/><rect x="460" y="319" width="1" height="27" fill="#ff0000"/><rect x="459" y="331" width="3" height="8" fill="#ff0000"/><rect x="464" y="322" width="1" height="23" fill="#ff0000"/><rect x="463" y="327" width="3" height="5" fill="#ff0000"/><rect x="468" y="322" width="1" height="7" fill="#ff0000"/><rect x="467" y="322" width="3" height="7" fill="#ff0000"/><rect x="472" y="304" width="1" height="36" fill="#ff0000"/><rect x="471" y="305" width="3" height="25" fill="#ff0000"/><rect x="476" y="304" width="1" height="23" fill="#00ff00"/><rect x="475" y="305" width="3" height="15" fill="#00ff00"/><rect x="480" y="295" width="1" height="28" fill="#ff0000"/><rect x="479" y="297" width="3" height="22" fill="#ff0000"/><rect x="484" y="278" width="1" height="23" fill="#ff0000"/><rect x="483" y="286" width="3" height="11" fill="#ff0000"/><rect x="488" y="279" width="1" height="25" fill="#ff0000"/><rect x="487" y="285" width="3" height="2" fill="#ff0000"/><rect x="492" y="285" width="1" height="7" fill="#00ff00"/><rect x="491" y="285" width="3" height="3" fill="#00ff00"/><rect x="496" y="286" width="1" height="15" fill="#00ff00"/><rect x="495" y="290" width="3" height="10" fill="#00ff00"/><rect x="500" y="289" width="1" height="14" fill="#ff0000"/><rect x="499" y="291" width="3" height="9" fill="#ff0000"/><rect x="504" y="292" width="1" height="28" fill="#00ff00"/><rect x="503" y="292" width="3" height="25" fill="#00ff00"/><rect x="508" y="314" width="1" height="40" fill="#00ff00"/><rect x="507" y="316" width="3" height="29" fill="#00ff00"/><rect x="512" y="322" width="1" height="23" fill="#ff0000"/><rect x="511" y="335" width="3" height="10" fill="#ff0000"/><rect x="516" y="334" width="1" height="8" fill="#00ff00"/><rect x="515" y="335" width="3" height="4" fill="#00ff00"/><rect x="520" y="335" width="1" height="30" fill="#00ff00"/><rect x="519" y="337" width="3" height="23" fill="#00ff00"/><rect x="524" y="349" width="1" height="14" fill="#ff0000"/><rect x="523" y="350" width="3" height="10" fill="#ff0000"/><rect x="528" y="338" width="1" height="18" fill="#00ff00"/><rect x="527" y="350" width="3" height="4" fill="#00ff00"/><rect x="532" y="342" width="1" height="16" fill="#ff0000"/><rect x="531" y="347" width="3" height="7" fill="#ff0000"/><rect x="536" y="346" width="1" height="42" fill="#00ff00"/><rect x="535" y="347" width="3" height="36" fill="#00ff00"/><rect x="540" y="377" width="1" height="8" fill="#ff0000"/><rect x="539" y="381" width="3" height="2" fill="#ff0000"/><rect x="544" y="336" width="1" height="33" fill="#ff0000"/><rect x="543" y="344" width="3" height="11" fill="#ff0000"/><rect x="548" y="333" width="1" height="22" fill="#00ff00"/><rect x="547" y="343" width="3" height="4" fill="#00ff00"/><rect x="552" y="342" width="1" height="29" fill="#00ff00"/><rect x="551" y="345" width="3" height="23" fill="#00ff00"/><rect x="556" y="353" width="1" height="20" fill="#ff0000"/><rect x="555" y="362" width="3" height="6" fill="#ff0000"/><rect x="560" y="360" width="1" height="23" fill="#00ff00"/><rect x="559" y="361" width="3" height="18" fill="#00ff00"/><rect x="564" y="375" width="1" height="4" fill="#ff0000"/><rect x="563" y="376" width="3" height="3" fill="#ff0000"/><rect x="568" y="373" width="1" height="21" fill="#00ff00"/><rect x="567" y="376" width="3" height="14" fill="#00ff00"/><rect x="572" y="383" width="1" height="16" fill="#00ff00"/><rect x="571" y="389" width="3" height="10" fill="#00ff00"/><rect x="576" y="395" width="1" height="25" fill="#00ff00"/><rect x="575" y="397" width="3" height="16" fill="#00ff00"/><rect x="580" y="387" width="1" height="28" fill="#ff0000"/><rect x="579" y="394" width="3" height="19" fill="#ff0000"/><rect x="584" y="383" width="1" height="23" fill="#ff0000"/><rect x="583" y="393" width="3" height="2" fill="#ff0000"/><rect x="588" y="390" width="1" height="5" fill="#00ff00"/><rect x="587" y="393" width="3" height="1" fill="#00ff00"/><rect x="592" y="361" width="1" height="36" fill="#ff0000"/><rect x="591" y="371" width="3" height="26" fill="#ff0000"/><rect x="596" y="359" width="1" height="21" fill="#ff0000"/><rect x="595" y="370" width="3" height="2" fill="#ff0000"/><rect x="600" y="348" width="1" height="25" fill="#ff0000"/><rect x="599" y="354" width="3" height="16" fill="#ff0000"/><rect x="604" y="350" width="1" height="19" fill="#00ff00"/><rect x="603" y="354" width="3" height="7" fill="#00ff00"/><rect x="608" y="360" width="1" height="29" fill="#00ff00"/><rect x="607" y="361" width="3" height="15" fill="#00ff00"/><rect x="612" y="374" width="1" height="7" fill="#00ff00"/><rect x="611" y="375" width="3" height="2" fill="#00ff00"/><rect x="616" y="370" width="1" height="14" fill="#00ff00"/><rect x="615" y="375" width="3" height="5" fill="#00ff00"/><rect x="620" y="378" width="1" height="11" fill="#00ff00"/><rect x="619" y="378" width="3" height="9" fill="#00ff00"/><rect x="624" y="325" width="1" height="88" fill="#00ff00"/><rect x="623" y="386" width="3" height="24" fill="#00ff00"/><rect x="628" y="398" width="1" height="40" fill="#00ff00"/><rect x="627" y="409" width="3" height="23" fill="#00ff00"/><rect x="632" y="420" width="1" height="28" fill="#00ff00"/><rect x="631" y="431" width="3" height="13" fill="#00ff00"/><rect x="636" y="442" width="1" height="6" fill="#00ff00"/><rect x="635" y="443" width="3" height="4" fill="#00ff00"/><rect x="640" y="411" width="1" height="62" fill="#ff0000"/><rect x="639" y="419" width="3" height="30" fill="#ff0000"/><rect x="644" y="406" width="1" height="42" fill="#00ff00"/><rect x="643" y="420" width="3" height="15" fill="#00ff00"/><rect x="648" y="420" width="1" height="29" fill="#ff0000"/><rect x="647" y="424" width="3" height="9" fill="#ff0000"/><rect x="652" y="415" width="1" height="23" fill="#00ff00"/><rect x="651" y="424" width="3" height="12" fill="#00ff00"/><rect x="656" y="419" width="1" height="19" fill="#ff0000"/><rect x="655" y="431" width="3" height="5" fill="#ff0000"/><rect x="660" y="430" width="1" height="9" fill="#00ff00"/><rect x="659" y="430" width="3" height="8" fill="#00ff00"/><rect x="664" y="442" width="1" height="19" fill="#00ff00"/><rect x="663" y="444" width="3" height="12" fill="#00ff00"/><rect x="668" y="452" width="1" height="22" fill="#00ff00"/><rect x="667" y="455" width="3" height="13" fill="#00ff00"/><rect x="672" y="459" width="1" height="24" fill="#ff0000"/><rect x="671" y="466" width="3" height="2" fill="#ff0000"/><rect x="676" y="444" width="1" height="25" fill="#ff0000"/><rect x="675" y="452" width="3" height="15" fill="#ff0000"/><rect x="680" y="449" width="1" height="20" fill="#00ff00"/><rect x="679" y="452" width="3" height="14" fill="#00ff00"/><rect x="684" y="464" width="1" height="5" fill="#00ff00"/><rect x="683" y="465" width="3" height="4" fill="#00ff00"/><rect x="688" y="446" width="1" height="28" fill="#ff0000"/><rect x="687" y="447" width="3" height="20" fill="#ff0000"/><rect x="692" y="439" width="1" height="20" fill="#ff0000"/><rect x="691" y="446" width="3" height="2" fill="#ff0000"/><rect x="696" y="446" width="1" height="15" fill="#00ff00"/><rect x="695" y="446" width="3" height="8" fill="#00ff00"/><rect x="700" y="453" width="1" height="14" fill="#00ff00"/><rect x="699" y="453" width="3" height="8" fill="#00ff00"/><rect x="704" y="450" width="1" height="11" fill="#ff0000"/><rect x="703" y="458" width="3" height="3" fill="#ff0000"/><rect x="708" y="454" width="1" height="6" fill="#ff0000"/><rect x="707" y="456" width="3" height="3" fill="#ff0000"/><rect x="712" y="446" width="1" height="15" fill="#ff0000"/><rect x="711" y="451" width="3" height="5" fill="#ff0000"/><rect x="716" y="447" width="1" height="23" fill="#00ff00"/><rect x="715" y="451" width="3" height="14" fill="#00ff00"/><rect x="720" y="462" width="1" height="14" fill="#00ff00"/><rect x="719" y="464" width="3" height="5" fill="#00ff00"/><rect x="724" y="468" width="1" height="20" fill="#00ff00"/><rect x="723" y="468" width="3" height="12" fill="#00ff00"/><rect x="728" y="475" width="1" height="20" fill="#00ff00"/><rect x="727" y="479" width="3" height="15" fill="#00ff00"/><rect x="732" y="491" width="1" height="8" fill="#00ff00"/><rect x="731" y="493" width="3" height="3" fill="#00ff00"/><rect x="736" y="479" width="1" height="17" fill="#ff0000"/><rect x="735" y="489" width="3" height="4" fill="#ff0000"/><rect x="740" y="485" width="1" height="14" fill="#00ff00"/><rect x="739" y="488" width="3" height="2" fill="#00ff00"/><rect x="744" y="486" width="1" height="19" fill="#ff0000"/><rect x="743" y="488" width="3" height="3" fill="#ff0000"/><rect x="748" y="474" width="1" height="14" fill="#ff0000"/><rect x="747" y="476" width="3" height="12" fill="#ff0000"/><rect x="752" y="472" width="1" height="16" fill="#00ff00"/><rect x="751" y="476" width="3" height="2" fill="#00ff00"/><rect x="756" y="477" width="1" height="2" fill="#00ff00"/><rect x="755" y="477" width="3" height="1" fill="#00ff00"/><rect x="760" y="478" width="1" height="15" fill="#ff0000"/><rect x="759" y="481" width="3" height="2" fill="#ff0000"/><rect x="764" y="473" width="1" height="14" fill="#00ff00"/><rect x="763" y="480" width="3" height="6" fill="#00ff00"/><rect x="768" y="484" width="1" height="16" fill="#00ff00"/><rect x="767" y="485" width="3" height="12" fill="#00ff00"/><rect x="772" y="489" width="1" height="14" fill="#ff0000"/><rect x="771" y="492" width="3" height="5" fill="#ff0000"/><rect x="776" y="481" width="1" height="15" fill="#ff0000"/><rect x="775" y="490" width="3" height="2" fill="#ff0000"/><rect x="780" y="488" width="1" height="5" fill="#ff0000"/><rect x="779" y="489" width="3" height="2" fill="#ff0000"/><rect x="784" y="468" width="1" height="20" fill="#ff0000"/><rect x="783" y="478" width="3" height="8" fill="#ff0000"/><rect x="788" y="471" width="1" height="14" fill="#ff0000"/><rect x="787" y="476" width="3" height="3" fill="#ff0000"/><rect x="792" y="472" width="1" height="19" fill="#00ff00"/><rect x="791" y="476" width="3" height="6" fill="#00ff00"/><rect x="796" y="479" width="1" height="15" fill="#00ff00"/><rect x="795" y="481" width="3" height="12" fill="#00ff00"/><rect x="800" y="489" width="1" height="5" fill="#ff0000"/><rect x="799" y="492" width="3" height="1" fill="#ff0000"/><rect x="804" y="479" width="1" height="15" fill="#ff0000"/><rect x="803" y="480" width="3" height="12" fill="#ff0000"/><rect x="808" y="479" width="1" height="16" fill="#00ff00"/><rect x="807" y="480" width="3" height="5" fill="#00ff00"/><rect x="812" y="491" width="1" height="12" fill="#00ff00"/><rect x="811" y="491" width="3" height="10" fill="#00ff00"/><rect x="816" y="495" width="1" height="16" fill="#00ff00"/><rect x="815" y="500" width="3" height="6" fill="#00ff00"/><rect x="820" y="500" width="1" height="7" fill="#ff0000"/><rect x="819" y="503" width="3" height="3" fill="#ff0000"/><rect x="824" y="500" width="1" height="1" fill="#000000"/><rect x="823" y="500" width="3" height="1" fill="#000000"/><rect x="828" y="506" width="1" height="36" fill="#00ff00"/><rect x="827" y="507" width="3" height="28" fill="#00ff00"/><rect x="832" y="525" width="1" height="36" fill="#00ff00"/><rect x="831" y="534" width="3" height="8" fill="#00ff00"/><rect x="836" y="530" width="1" height="22" fill="#ff0000"/><rect x="835" y="533" width="3" height="9" fill="#ff0000"/><rect x="840" y="521" width="1" height="23" fill="#ff0000"/><rect x="839" y="521" width="3" height="13" fill="#ff0000"/><rect x="844" y="517" width="1" height="17" fill="#00ff00"/><rect x="843" y="521" width="3" height="11" fill="#00ff00"/><rect x="848" y="518" width="1" height="15" fill="#ff0000"/><rect x="847" y="524" width="3" height="6" fill="#ff0000"/><rect x="852" y="509" width="1" height="15" fill="#ff0000"/><rect x="851" y="517" width="3" height="3" fill="#ff0000"/><rect x="856" y="516" width="1" height="19" fill="#00ff00"/><rect x="855" y="517" width="3" height="13" fill="#00ff00"/><rect x="860" y="523" width="1" height="19" fill="#ff0000"/><rect x="859" y="526" width="3" height="4" fill="#ff0000"/><rect x="864" y="517" width="1" height="14" fill="#ff0000"/><rect x="863" y="520" width="3" height="7" fill="#ff0000"/><rect x="868" y="512" width="1" height="16" fill="#ff0000"/><rect x="867" y="514" width="3" height="7" fill="#ff0000"/><rect x="872" y="511" width="1" height="7" fill="#ff0000"/><rect x="871" y="512" width="3" height="2" fill="#ff0000"/><rect x="876" y="498" width="1" height="16" fill="#ff0000"/><rect x="875" y="504" width="3" height="8" fill="#ff0000"/><rect x="880" y="503" width="1" height="17" fill="#00ff00"/><rect x="879" y="503" width="3" height="15" fill="#00ff00"/><rect x="884" y="513" width="1" height="15" fill="#00ff00"/><rect x="883" y="517" width="3" height="11" fill="#00ff00"/><rect x="888" y="523" width="1" height="9" fill="#ff0000"/><rect x="887" y="524" width="3" height="5" fill="#ff0000"/><rect x="892" y="503" width="1" height="25" fill="#ff0000"/><rect x="891" y="506" width="3" height="19" fill="#ff0000"/><rect x="896" y="503" width="1" height="6" fill="#ff0000"/><rect x="895" y="504" width="3" height="3" fill="#ff0000"/><rect x="900" y="504" width="1" height="10" fill="#00ff00"/><rect x="899" y="505" width="3" height="4" fill="#00ff00"/><rect x="904" y="506" width="1" height="17" fill="#00ff00"/><rect x="903" y="508" width="3" height="14" fill="#00ff00"/><rect x="908" y="502" width="1" height="23" fill="#ff0000"/><rect x="907" y="506" width="3" height="16" fill="#ff0000"/><rect x="912" y="493" width="1" height="31" fill="#00ff00"/><rect x="911" y="506" width="3" height="14" fill="#00ff00"/><rect x="916" y="515" width="1" height="26" fill="#00ff00"/><rect x="915" y="516" width="3" height="25" fill="#00ff00"/><rect x="920" y="531" width="1" height="10" fill="#ff0000"/><rect x="919" y="534" width="3" height="6" fill="#ff0000"/><rect x="924" y="516" width="1" height="24" fill="#ff0000"/><rect x="923" y="518" width="3" height="14" fill="#ff0000"/><rect x="928" y="516" width="1" height="17" fill="#00ff00"/><rect x="927" y="517" width="3" height="10" fill="#00ff00"/><rect x="932" y="523" width="1" height="9" fill="#ff0000"/><rect x="931" y="526" width="3" height="2" fill="#ff0000"/><rect x="936" y="516" width="1" height="15" fill="#ff0000"/><rect x="935" y="518" width="3" height="9" fill="#ff0000"/><rect x="940" y="510" width="1" height="18" fill="#00ff00"/><rect x="939" y="518" width="3" height="10" fill="#00ff00"/><rect x="944" y="526" width="1" height="4" fill="#00ff00"/><rect x="943" y="526" width="3" height="3" fill="#00ff00"/><rect x="948" y="527" width="1" height="15" fill="#00ff00"/><rect x="947" y="529" width="3" height="13" fill="#00ff00"/><rect x="952" y="536" width="1" height="19" fill="#00ff00"/><rect x="951" y="541" width="3" height="13" fill="#00ff00"/><rect x="956" y="547" width="1" height="13" fill="#ff0000"/><rect x="955" y="549" width="3" height="5" fill="#ff0000"/><rect x="960" y="546" width="1" height="11" fill="#00ff00"/><rect x="959" y="548" width="3" height="8" fill="#00ff00"/><rect x="964" y="543" width="1" height="14" fill="#ff0000"/><rect x="963" y="553" width="3" height="3" fill="#ff0000"/><rect x="968" y="552" width="1" height="4" fill="#00ff00"/><rect x="967" y="553" width="3" height="2" fill="#00ff00"/><rect x="972" y="552" width="1" height="16" fill="#00ff00"/><rect x="971" y="553" width="3" height="12" fill="#00ff00"/><rect x="976" y="548" width="1" height="20" fill="#ff0000"/><rect x="975" y="552" width="3" height="13" fill="#ff0000"/><rect x="980" y="535" width="1" height="18" fill="#ff0000"/><rect x="979" y="538" width="3" height="15" fill="#ff0000"/><rect x="984" y="521" width="1" height="28" fill="#ff0000"/><rect x="983" y="521" width="3" height="18" fill="#ff0000"/><rect x="988" y="521" width="1" height="20" fill="#00ff00"/><rect x="987" y="521" width="3" height="9" fill="#00ff00"/><rect x="992" y="526" width="1" height="8" fill="#ff0000"/><rect x="991" y="527" width="3" height="6" fill="#ff0000"/><rect x="996" y="518" width="1" height="18" fill="#ff0000"/><rect x="995" y="519" width="3" height="16" fill="#ff0000"/><rect x="1000" y="519" width="1" height="15" fill="#00ff00"/><rect x="999" y="519" width="3" height="8" fill="#00ff00"/><rect x="1004" y="523" width="1" height="18" fill="#00ff00"/><rect x="1003" y="526" width="3" height="5" fill="#00ff00"/><rect x="1008" y="527" width="1" height="12" fill="#ff0000"/><rect x="1007" y="527" width="3" height="4" fill="#ff0000"/><rect x="1012" y="497" width="1" height="32" fill="#ff0000"/><rect x="1011" y="516" width="3" height="12" fill="#ff0000"/><rect x="1016" y="509" width="1" height="8" fill="#ff0000"/><rect x="1015" y="511" width="3" height="6" fill="#ff0000"/><rect x="1020" y="517" width="1" height="9" fill="#00ff00"/><rect x="1019" y="520" width="3" height="3" fill="#00ff00"/><rect x="1024" y="513" width="1" height="13" fill="#ff0000"/><rect x="1023" y="517" width="3" height="6" fill="#ff0000"/><rect x="1028" y="516" width="1" height="15" fill="#00ff00"/><rect x="1027" y="517" width="3" height="5" fill="#00ff00"/><rect x="1032" y="515" width="1" height="8" fill="#ff0000"/><rect x="1031" y="518" width="3" height="4" fill="#ff0000"/><rect x="1036" y="489" width="1" height="30" fill="#ff0000"/><rect x="1035" y="490" width="3" height="29" fill="#ff0000"/><rect x="1040" y="484" width="1" height="10" fill="#00ff00"/><rect x="1039" y="490" width="3" height="4" fill="#00ff00"/><rect x="1044" y="471" width="1" height="27" fill="#ff0000"/><rect x="1043" y="472" width="3" height="26" fill="#ff0000"/><rect x="1048" y="462" width="1" height="34" fill="#00ff00"/><rect x="1047" y="472" width="3" height="23" fill="#00ff00"/><rect x="1052" y="484" width="1" height="18" fill="#00ff00"/><rect x="1051" y="489" width="3" height="7" fill="#00ff00"/><rect x="1056" y="494" width="1" height="20" fill="#00ff00"/><rect x="1055" y="495" width="3" height="15" fill="#00ff00"/><rect x="1060" y="494" width="1" height="24" fill="#ff0000"/><rect x="1059" y="501" width="3" height="10" fill="#ff0000"/><rect x="1064" y="500" width="1" height="7" fill="#00ff00"/><rect x="1063" y="501" width="3" height="3" fill="#00ff00"/><rect x="1068" y="491" width="1" height="17" fill="#ff0000"/><rect x="1067" y="501" width="3" height="3" fill="#ff0000"/><rect x="1072" y="499" width="1" height="9" fill="#00ff00"/><rect x="1071" y="501" width="3" height="2" fill="#00ff00"/><rect x="1076" y="496" width="1" height="8" fill="#ff0000"/><rect x="1075" y="496" width="3" height="7" fill="#ff0000"/><rect x="1080" y="495" width="1" height="18" fill="#00ff00"/><rect x="1079" y="496" width="3" height="3" fill="#00ff00"/><rect x="1084" y="489" width="1" height="13" fill="#ff0000"/><rect x="1083" y="495" width="3" height="6" fill="#ff0000"/><rect x="1088" y="495" width="1" height="4" fill="#00ff00"/><rect x="1087" y="496" width="3" height="2" fill="#00ff00"/><rect x="1092" y="492" width="1" height="10" fill="#00ff00"/><rect x="1091" y="493" width="3" height="8" fill="#00ff00"/><rect x="1096" y="492" width="1" height="10" fill="#ff0000"/><rect x="1095" y="494" width="3" height="7" fill="#ff0000"/><rect x="1100" y="484" width="1" height="12" fill="#ff0000"/><rect x="1099" y="486" width="3" height="9" fill="#ff0000"/><rect x="1104" y="469" width="1" height="18" fill="#ff0000"/><rect x="1103" y="470" width="3" height="17" fill="#ff0000"/><rect x="1108" y="468" width="1" height="11" fill="#00ff00"/><rect x="1107" y="470" width="3" height="6" fill="#00ff00"/><rect x="1112" y="473" width="1" height="4" fill="#00ff00"/><rect x="1111" y="475" width="3" height="2" fill="#00ff00"/><rect x="1116" y="448" width="1" height="29" fill="#ff0000"/><rect x="1115" y="454" width="3" height="21" fill="#ff0000"/><rect x="1120" y="448" width="1" height="11" fill="#ff0000"/><rect x="1119" y="454" width="3" height="1" fill="#ff0000"/><rect x="1124" y="452" width="1" height="15" fill="#00ff00"/><rect x="1123" y="454" width="3" height="7" fill="#00ff00"/><rect x="1128" y="446" width="1" height="19" fill="#ff0000"/><rect x="1127" y="454" width="3" height="6" fill="#ff0000"/><rect x="1132" y="452" width="1" height="5" fill="#00ff00"/><rect x="1131" y="453" width="3" height="4" fill="#00ff00"/><rect x="1136" y="453" width="1" height="3" fill="#00ff00"/><rect x="1135" y="453" width="3" height="3" fill="#00ff00"/><rect x="1140" y="448" width="1" height="20" fill="#00ff00"/><rect x="1139" y="455" width="3" height="12" fill="#00ff00"/><rect x="1144" y="460" width="1" height="17" fill="#00ff00"/><rect x="1143" y="466" width="3" height="11" fill="#00ff00"/><rect x="1148" y="468" width="1" height="10" fill="#ff0000"/><rect x="1147" y="471" width="3" height="6" fill="#ff0000"/><rect x="1152" y="462" width="1" height="12" fill="#ff0000"/><rect x="1151" y="463" width="3" height="10" fill="#ff0000"/><rect x="1156" y="457" width="1" height="13" fill="#00ff00"/><rect x="1155" y="463" width="3" height="3" fill="#00ff00"/><rect x="1160" y="463" width="1" height="2" fill="#ff0000"/><rect x="1159" y="464" width="3" height="1" fill="#ff0000"/><rect x="1164" y="460" width="1" height="12" fill="#00ff00"/><rect x="1163" y="464" width="3" height="6" fill="#00ff00"/><rect x="1168" y="464" width="1" height="10" fill="#00ff00"/><rect x="1167" y="470" width="3" height="4" fill="#00ff00"/><rect x="1172" y="472" width="1" height="14" fill="#00ff00"/><rect x="1171" y="472" width="3" height="14" fill="#00ff00"/><rect x="1176" y="474" width="1" height="13" fill="#00ff00"/><rect x="1175" y="485" width="3" height="1" fill="#00ff00"/><rect x="1180" y="480" width="1" height="10" fill="#00ff00"/><rect x="1179" y="485" width="3" height="4" fill="#00ff00"/><rect x="1184" y="485" width="1" height="2" fill="#ff0000"/><rect x="1183" y="485" width="3" height="2" fill="#ff0000"/><rect x="1188" y="480" width="1" height="20" fill="#00ff00"/><rect x="1187" y="484" width="3" height="12" fill="#00ff00"/><rect x="1192" y="495" width="1" height="16" fill="#00ff00"/><rect x="1191" y="495" width="3" height="9" fill="#00ff00"/><rect x="1196" y="500" width="1" height="11" fill="#00ff00"/><rect x="1195" y="503" width="3" height="7" fill="#00ff00"/><rect x="1200" y="507" width="1" height="9" fill="#ff0000"/><rect x="1199" y="508" width="3" height="2" fill="#ff0000"/><rect x="1204" y="503" width="1" height="10" fill="#ff0000"/><rect x="1203" y="508" width="3" height="1" fill="#ff0000"/><rect x="1208" y="507" width="1" height="4" fill="#00ff00"/><rect x="1207" y="507" width="3" height="4" fill="#00ff00"/><rect x="1212" y="508" width="1" height="12" fill="#00ff00"/><rect x="1211" y="509" width="3" height="10" fill="#00ff00"/><rect x="1216" y="511" width="1" height="11" fill="#ff0000"/><rect x="1215" y="516" width="3" height="3" fill="#ff0000"/><rect x="1220" y="511" width="1" height="9" fill="#00ff00"/><rect x="1219" y="516" width="3" height="4" fill="#00ff00"/><rect x="1224" y="518" width="1" height="10" fill="#00ff00"/><rect x="1223" y="519" width="3" height="6" fill="#00ff00"/><rect x="1228" y="521" width="1" height="7" fill="#ff0000"/><rect x="1227" y="522" width="3" height="3" fill="#ff0000"/><rect x="1232" y="519" width="1" height="5" fill="#ff0000"/><rect x="1231" y="521" width="3" height="2" fill="#ff0000"/><rect x="1236" y="513" width="1" height="10" fill="#00ff00"/><rect x="1235" y="520" width="3" height="1" fill="#00ff00"/><rect x="1240" y="508" width="1" height="16" fill="#ff0000"/><rect x="1239" y="511" width="3" height="10" fill="#ff0000"/><rect x="1244" y="507" width="1" height="11" fill="#00ff00"/><rect x="1243" y="510" width="3" height="3" fill="#00ff00"/><rect x="1248" y="509" width="1" height="17" fill="#00ff00"/><rect x="1247" y="512" width="3" height="13" fill="#00ff00"/><rect x="1252" y="523" width="1" height="34" fill="#00ff00"/><rect x="1251" y="524" width="3" height="33" fill="#00ff00"/><rect x="1256" y="551" width="1" height="7" fill="#ff0000"/><rect x="1255" y="555" width="3" height="2" fill="#ff0000"/><rect x="1260" y="548" width="1" height="17" fill="#00ff00"/><rect x="1259" y="557" width="3" height="5" fill="#00ff00"/><rect x="1264" y="546" width="1" height="16" fill="#ff0000"/><rect x="1263" y="549" width="3" height="13" fill="#ff0000"/><rect x="1268" y="546" width="1" height="5" fill="#00ff00"/><rect x="1267" y="548" width="3" height="1" fill="#00ff00"/></g>
<g shape-rendering="crispEdges"><polyline points="3.6,121.8 4.5,121.8 8.5,122.9 12.5,123.1 16.5,122.9 20.5,121.8 24.5,120.8 28.5,119.3 32.5,117.3 36.5,115.7 40.5,114.2 44.5,112.7 48.5,112.2 52.5,110.6 56.5,109.0 60.5,108.1 64.5,106.7 68.5,105.8 72.5,105.3 76.5,103.9 80.5,102.5 84.5,101.0 88.5,99.5 92.5,98.6 96.5,97.9 100.5,97.4 104.5,97.8 108.5,99.1 112.5,100.4 116.5,101.7 120.5,103.2 124.5,103.8 128.5,104.0 132.5,104.3 136.5,104.9 140.5,105.2 144.5,105.8 148.5,106.6 152.5,107.8 156.5,109.0 160.5,110.4 164.5,111.6 168.5,112.2 172.5,113.2 176.5,114.5 180.5,115.8 184.5,117.3 188.5,119.0 192.5,121.6 196.5,123.5 200.5,125.6 204.5,127.5 208.5,130.0 212.5,132.1 216.5,134.5 220.5,137.1 224.5,138.5 228.5,139.8 232.5,141.1 236.5,142.6 240.5,144.0 244.5,145.8 248.5,147.6 252.5,149.6 256.5,151.6 260.5,153.9 264.5,155.6 268.5,157.4 272.5,158.4 276.5,159.7 280.5,160.9 284.5,162.1 288.5,163.7 292.5,165.2 296.5,167.4 300.5,169.5 304.5,171.7 308.5,173.6 312.5,176.4 316.5,179.0 320.5,181.1 324.5,183.2 328.5,184.5 332.5,186.0 336.5,187.5 340.5,188.6 344.5,190.0 348.5,191.5 352.5,192.9 356.5,195.1 360.5,196.7 364.5,198.4 368.5,200.0 372.5,201.4 376.5,203.1 380.5,204.6 384.5,207.1 388.5,209.6 392.5,213.1 396.5,216.5 400.5,219.8 404.5,223.5 408.5,227.1 412.5,230.6 416.5,233.6 420.5,236.8 424.5,240.0 428.5,242.8 432.5,244.9 436.5,247.5 440.5,250.3 444.5,253.3 448.5,256.6 452.5,260.0 456.5,263.9 460.5,267.9 464.5,271.6 468.5,275.1 472.5,277.9 476.5,280.6 480.5,282.6 484.5,284.2 488.5,286.1 492.5,288.0 496.5,290.1 500.5,291.9 504.5,294.1 508.5,297.1 512.5,299.3 516.5,301.7 520.5,304.4 524.5,306.5 528.5,308.8 532.5,311.1 536.5,314.5 540.5,317.8 544.5,319.7 548.5,322.1 552.5,324.8 556.5,327.3 560.5,330.4 564.5,333.4 568.5,336.3 572.5,338.9 576.5,341.4 580.5,343.5 584.5,345.7 588.5,348.0 592.5,350.2 596.5,351.9 600.5,353.8 604.5,356.3 608.5,359.3 612.5,362.3 616.5,364.9 620.5,368.1 624.5,371.2 628.5,374.1 632.5,377.7 636.5,381.3 640.5,383.3 644.5,386.1 648.5,388.5 652.5,391.4 656.5,393.0 660.5,394.9 664.5,398.6 668.5,402.6 672.5,405.9 676.5,408.9 680.5,411.8 684.5,414.9 688.5,416.8 692.5,418.4 696.5,419.8 700.5,422.0 704.5,424.2 708.5,426.3 712.5,428.9 716.5,432.1 720.5,435.9 724.5,439.8 728.5,443.8 732.5,447.7 736.5,451.4 740.5,454.8 744.5,457.5 748.5,459.0 752.5,460.1 756.5,461.1 760.5,463.2 764.5,464.9 768.5,467.3 772.5,469.2 776.5,471.2 780.5,472.9 784.5,473.7 788.5,474.0 792.5,474.5 796.5,475.8 800.5,476.7 804.5,477.1 808.5,478.3 812.5,480.1 816.5,481.9 820.5,483.3 824.5,484.7 828.5,487.3 832.5,490.3 836.5,492.6 840.5,494.4 844.5,496.1 848.5,497.1 852.5,497.9 856.5,499.2 860.5,500.4 864.5,501.5 868.5,502.8 872.5,503.9 876.5,504.9 880.5,506.1 884.5,507.4 888.5,508.4 892.5,508.9 896.5,509.3 900.5,509.9 904.5,511.4 908.5,512.4 912.5,513.6 916.5,515.2 920.5,516.6 924.5,517.9 928.5,519.3 932.5,520.2 936.5,520.6 940.5,521.4 944.5,522.3 948.5,522.6 952.5,523.0 956.5,523.5 960.5,524.6 964.5,525.4 968.5,526.4 972.5,527.9 976.5,528.7 980.5,529.1 984.5,529.1 988.5,529.6 992.5,530.1 996.5,530.6 1000.5,530.9 1004.5,531.0 1008.5,531.1 1012.5,531.5 1016.5,531.7 1020.5,532.2 1024.5,532.0 1028.5,532.5 1032.5,532.5 1036.5,530.8 1040.5,529.5 1044.5,527.9 1048.5,526.9 1052.5,525.8 1056.5,525.5 1060.5,524.7 1064.5,523.8 1068.5,522.5 1072.5,520.8 1076.5,519.0 1080.5,517.1 1084.5,515.2 1088.5,513.3 1092.5,511.2 1096.5,509.2 1100.5,507.5 1104.5,505.8 1108.5,504.0 1112.5,502.3 1116.5,500.1 1120.5,497.7 1124.5,495.4 1128.5,493.0 1132.5,491.0 1136.5,489.1 1140.5,487.2 1144.5,485.9 1148.5,484.2 1152.5,482.4 1156.5,481.5 1160.5,480.6 1164.5,480.5 1168.5,479.8 1172.5,479.4 1176.5,478.6 1180.5,478.2 1184.5,477.6 1188.5,477.4 1192.5,477.4 1196.5,477.9 1200.5,478.2 1204.5,478.6 1208.5,479.1 1212.5,479.7 1216.5,480.4 1220.5,481.5 1224.5,483.3 1228.5,484.9 1232.5,486.4 1236.5,488.6 1240.5,490.5 1244.5,492.2 1248.5,494.5 1252.5,497.9 1256.5,501.2 1260.5,504.4 1264.5,506.8 1268.5,509.4" fill="none" stroke="#0000cd" stroke-width="1" /><polyline points="3.6,111.7 4.5,111.7 8.5,112.7 12.5,111.7 16.5,111.7 20.5,111.7 24.5,112.2 28.5,109.1 32.5,105.5 36.5,104.0 40.5,105.0 44.5,106.1 48.5,106.6 52.5,106.1 56.5,105.3 60.5,102.9 64.5,100.1 68.5,97.8 72.5,94.1 76.5,91.4 80.5,89.0 84.5,87.4 88.5,87.2 92.5,88.1 96.5,88.4 100.5,88.2 104.5,89.8 108.5,92.3 112.5,96.3 116.5,99.6 120.5,103.9 124.5,107.6 128.5,112.8 132.5,116.2 136.5,119.9 140.5,123.1 144.5,125.6 148.5,126.9 152.5,128.9 156.5,130.6 160.5,131.1 164.5,131.9 168.5,131.3 172.5,131.0 176.5,129.5 180.5,128.7 184.5,128.5 188.5,129.1 192.5,130.0 196.5,130.7 200.5,131.4 204.5,132.1 208.5,134.7 212.5,137.6 216.5,140.2 220.5,142.9 224.5,146.0 228.5,149.4 232.5,153.4 236.5,156.9 240.5,161.2 244.5,165.0 248.5,168.4 252.5,172.0 256.5,175.6 260.5,179.8 264.5,180.5 268.5,181.1 272.5,180.1 276.5,179.1 280.5,179.2 284.5,179.6 288.5,179.6 292.5,179.5 296.5,179.7 300.5,179.6 304.5,180.1 308.5,180.6 312.5,183.2 316.5,184.5 320.5,186.0 324.5,187.5 328.5,190.5 332.5,194.0 336.5,197.2 340.5,199.7 344.5,202.4 348.5,205.6 352.5,207.9 356.5,211.6 360.5,214.9 364.5,218.1 368.5,218.8 372.5,220.0 376.5,222.7 380.5,225.5 384.5,228.9 388.5,231.6 392.5,234.9 396.5,238.9 400.5,243.1 404.5,248.2 408.5,252.8 412.5,255.6 416.5,258.7 420.5,262.0 424.5,266.0 428.5,269.3 432.5,272.9 436.5,276.4 440.5,278.7 444.5,281.0 448.5,283.6 452.5,287.3 456.5,291.7 460.5,294.9 464.5,297.8 468.5,301.0 472.5,302.9 476.5,305.4 480.5,306.1 484.5,307.0 488.5,306.9 492.5,306.9 496.5,308.0 500.5,308.4 504.5,309.3 508.5,311.0 512.5,310.8 516.5,311.3 520.5,313.6 524.5,315.6 528.5,319.0 532.5,321.0 536.5,327.1 540.5,333.9 544.5,338.1 548.5,342.3 552.5,347.1 556.5,352.2 560.5,356.6 564.5,358.9 568.5,362.8 572.5,367.1 576.5,370.9 580.5,374.0 584.5,376.9 588.5,380.1 592.5,379.4 596.5,378.6 600.5,379.3 604.5,380.3 608.5,380.9 612.5,381.9 616.5,381.9 620.5,382.6 624.5,384.1 628.5,386.4 632.5,388.6 636.5,392.4 640.5,394.2 644.5,397.1 648.5,400.9 652.5,405.6 656.5,411.1 660.5,416.6 664.5,422.3 668.5,428.8 672.5,435.0 676.5,439.7 680.5,443.7 684.5,446.4 688.5,446.6 692.5,446.6 696.5,449.1 700.5,450.9 704.5,453.4 708.5,454.9 712.5,456.3 716.5,458.2 720.5,459.1 724.5,460.0 728.5,461.9 732.5,465.0 736.5,466.7 740.5,468.2 744.5,471.1 748.5,473.3 752.5,475.0 756.5,476.2 760.5,477.9 764.5,479.9 768.5,483.1 772.5,485.1 776.5,486.7 780.5,487.4 784.5,486.4 788.5,485.0 792.5,484.4 796.5,484.6 800.5,484.9 804.5,485.2 808.5,485.7 812.5,487.4 816.5,489.1 820.5,490.4 824.5,490.7 828.5,493.7 832.5,497.3 836.5,500.5 840.5,503.5 844.5,507.5 848.5,510.5 852.5,512.3 856.5,515.0 860.5,518.2 864.5,520.8 868.5,521.8 872.5,522.3 876.5,522.4 880.5,523.6 884.5,523.1 888.5,521.9 892.5,519.9 896.5,518.7 900.5,517.1 904.5,516.9 908.5,516.1 912.5,515.4 916.5,516.4 920.5,517.4 924.5,517.6 928.5,518.6 932.5,520.2 936.5,520.3 940.5,520.3 944.5,520.6 948.5,523.1 952.5,526.6 956.5,529.5 960.5,531.9 964.5,535.3 968.5,537.8 972.5,539.5 976.5,540.8 980.5,542.2 984.5,541.9 988.5,542.1 992.5,542.7 996.5,542.1 1000.5,542.0 1004.5,541.2 1008.5,539.4 1012.5,537.0 1016.5,533.9 1020.5,531.6 1024.5,529.0 1028.5,525.9 1032.5,523.5 1036.5,520.1 1040.5,518.1 1044.5,514.0 1048.5,511.6 1052.5,509.9 1056.5,508.7 1060.5,506.6 1064.5,504.9 1068.5,503.9 1072.5,503.2 1076.5,501.4 1080.5,500.0 1084.5,498.1 1088.5,496.6 1092.5,497.4 1096.5,497.4 1100.5,498.4 1104.5,496.7 1108.5,495.3 1112.5,492.9 1116.5,489.6 1120.5,486.1 1124.5,483.1 1128.5,479.7 1132.5,476.9 1136.5,473.8 1140.5,471.7 1144.5,470.2 1148.5,468.1 1152.5,465.9 1156.5,464.4 1160.5,464.0 1164.5,463.6 1168.5,463.4 1172.5,465.6 1176.5,467.8 1180.5,469.8 1184.5,472.0 1188.5,474.8 1192.5,478.2 1196.5,481.3 1200.5,483.6 1204.5,486.2 1208.5,489.6 1212.5,493.4 1216.5,497.1 1220.5,500.6 1224.5,504.3 1228.5,506.9 1232.5,509.5 1236.5,511.8 1240.5,513.6 1244.5,514.9 1248.5,516.4 1252.5,519.7 1256.5,523.1 1260.5,526.9 1264.5,529.6 1268.5,531.8" fill="none" stroke="#ff0000" stroke-width="1" /><polyline points="3.6,99.4 4.5,99.4 8.5,105.5 12.5,110.6 16.5,113.2 20.5,115.7 24.5,113.9 28.5,109.7 32.5,105.1 36.5,102.1 40.5,99.1 44.5,99.1 48.5,101.1 52.5,101.9 56.5,99.9 60.5,96.7 64.5,91.9 68.5,86.3 72.5,78.1 76.5,76.9 80.5,74.9 84.5,73.9 88.5,75.5 92.5,85.5 96.5,90.7 100.5,96.9 104.5,107.9 108.5,116.1 112.5,122.7 116.5,127.9 120.5,135.9 124.5,136.1 128.5,135.5 132.5,132.7 136.5,131.7 140.5,127.7 144.5,125.9 148.5,125.1 152.5,126.1 156.5,126.9 160.5,130.1 164.5,133.7 168.5,134.9 172.5,133.9 176.5,132.9 180.5,129.5 184.5,126.1 188.5,126.7 192.5,128.9 196.5,131.1 200.5,133.5 204.5,135.1 208.5,141.7 212.5,148.3 216.5,156.7 220.5,165.9 224.5,173.9 228.5,174.9 232.5,176.9 236.5,176.1 240.5,177.3 244.5,179.9 248.5,182.1 252.5,183.3 256.5,185.9 260.5,187.1 264.5,185.1 268.5,183.9 272.5,179.3 276.5,175.7 280.5,172.3 284.5,172.5 288.5,172.7 292.5,174.5 296.5,179.1 300.5,181.1 304.5,183.5 308.5,186.3 312.5,196.3 316.5,200.5 320.5,202.9 324.5,204.5 328.5,206.9 332.5,205.9 336.5,207.9 340.5,210.9 344.5,214.5 348.5,216.9 352.5,218.1 356.5,221.3 360.5,225.9 364.5,230.3 368.5,233.1 372.5,234.3 376.5,234.1 380.5,234.3 384.5,237.1 388.5,241.9 392.5,249.7 396.5,256.1 400.5,263.9 404.5,270.9 408.5,277.3 412.5,279.3 416.5,281.5 420.5,283.1 424.5,282.9 428.5,280.5 432.5,282.3 436.5,283.9 440.5,283.9 444.5,283.9 448.5,289.7 452.5,296.5 456.5,306.7 460.5,316.1 464.5,324.3 468.5,328.1 472.5,325.1 476.5,321.3 480.5,314.5 484.5,306.3 488.5,298.9 492.5,295.3 496.5,291.3 500.5,290.1 504.5,296.1 508.5,307.9 512.5,317.5 516.5,325.3 520.5,338.9 524.5,345.7 528.5,347.5 532.5,349.9 536.5,358.7 540.5,363.1 544.5,361.9 548.5,360.5 552.5,364.5 556.5,360.5 560.5,359.9 564.5,366.3 568.5,374.9 572.5,381.1 576.5,391.1 580.5,394.3 584.5,397.7 588.5,398.5 592.5,393.1 596.5,384.7 600.5,376.7 604.5,370.1 608.5,366.5 612.5,367.5 616.5,369.3 620.5,375.7 624.5,385.5 628.5,396.7 632.5,410.1 636.5,423.5 640.5,430.1 644.5,435.1 648.5,433.7 652.5,432.1 656.5,429.1 660.5,432.7 664.5,436.9 668.5,445.5 672.5,451.7 676.5,455.9 680.5,461.5 684.5,464.1 688.5,460.1 692.5,456.1 696.5,456.3 700.5,455.3 704.5,453.3 708.5,455.1 712.5,456.1 716.5,458.3 720.5,459.9 724.5,464.1 728.5,471.5 732.5,480.3 736.5,485.3 740.5,489.5 744.5,491.3 748.5,487.9 752.5,484.3 756.5,481.9 760.5,480.3 764.5,479.7 768.5,483.7 772.5,486.7 776.5,489.3 780.5,490.9 784.5,489.5 788.5,485.5 792.5,483.3 796.5,483.7 800.5,484.3 804.5,484.7 808.5,486.3 812.5,490.1 816.5,492.7 820.5,494.9 824.5,499.0 828.5,509.0 832.5,517.2 836.5,522.8 840.5,526.4 844.5,532.5 848.5,530.5 852.5,525.7 856.5,524.9 860.5,525.9 864.5,523.7 868.5,521.7 872.5,520.7 876.5,515.7 880.5,513.9 884.5,515.3 888.5,517.3 892.5,516.1 896.5,516.1 900.5,514.3 904.5,513.1 908.5,509.5 912.5,512.1 916.5,519.3 920.5,524.5 924.5,523.9 928.5,527.9 932.5,529.3 936.5,524.9 940.5,523.5 944.5,525.5 948.5,528.5 952.5,533.9 956.5,540.1 960.5,545.7 964.5,550.7 968.5,553.3 972.5,555.5 976.5,556.1 980.5,552.7 984.5,546.3 988.5,541.3 992.5,533.9 996.5,527.3 1000.5,524.9 1004.5,526.7 1008.5,526.3 1012.5,524.1 1016.5,522.5 1020.5,521.7 1024.5,519.1 1028.5,517.9 1032.5,518.3 1036.5,514.1 1040.5,508.3 1044.5,499.3 1048.5,493.9 1052.5,489.3 1056.5,493.1 1060.5,494.7 1064.5,500.9 1068.5,502.3 1072.5,503.7 1076.5,501.1 1080.5,500.5 1084.5,498.9 1088.5,498.1 1092.5,497.7 1096.5,497.3 1100.5,494.9 1104.5,489.9 1108.5,485.5 1112.5,480.7 1116.5,472.7 1120.5,466.3 1124.5,464.3 1128.5,460.1 1132.5,456.1 1136.5,456.3 1140.5,458.7 1144.5,461.9 1148.5,465.3 1152.5,466.7 1156.5,468.7 1160.5,468.3 1164.5,466.9 1168.5,467.3 1172.5,471.7 1176.5,475.7 1180.5,480.5 1184.5,483.7 1188.5,488.1 1192.5,491.7 1196.5,496.5 1200.5,500.5 1204.5,505.1 1208.5,508.1 1212.5,511.1 1216.5,512.5 1220.5,514.7 1224.5,517.9 1228.5,520.3 1232.5,520.9 1236.5,521.7 1240.5,520.1 1244.5,517.7 1248.5,518.1 1252.5,525.1 1256.5,532.1 1260.5,542.1 1264.5,549.5 1268.5,554.3" fill="none" stroke="#ffa500" stroke-width="1" /></g>
<g shape-rendering="crispEdges"><rect x="4" y="177" width="1592" height="2" fill="#ff0000"/><rect x="4" y="249" width="1592" height="2" fill="#ff0000"/><rect x="4" y="331" width="1592" height="2" fill="#ff0000"/><rect x="4" y="418" width="1592" height="2" fill="#ff0000"/><rect x="4" y="487" width="1592" height="2" fill="#00ff00"/><rect x="4" y="565" width="1592" height="2" fill="#0000ff"/><rect x="3" y="416" width="6" height="6" fill="#ff0000"/><rect x="5" y="418" width="2" height="2" fill="#fff"/><rect x="1590" y="416" width="6" height="6" fill="#ff0000"/><rect x="1592" y="418" width="2" height="2" fill="#fff"/><rect x="3" y="485" width="6" height="6" fill="#00ff00"/><rect x="5" y="487" width="2" height="2" fill="#fff"/><rect x="1590" y="485" width="6" height="6" fill="#00ff00"/><rect x="1592" y="487" width="2" height="2" fill="#fff"/><rect x="3" y="563" width="6" height="6" fill="#0000ff"/><rect x="5" y="565" width="2" height="2" fill="#fff"/><rect x="1590" y="563" width="6" height="6" fill="#0000ff"/><rect x="1592" y="565" width="2" height="2" fill="#fff"/></g>
<g shape-rendering="crispEdges"><polyline points="3.6,633.5 4.5,633.5 8.5,635.7 12.5,633.3 16.5,630.3 20.5,632.8 24.5,630.0 28.5,627.8 32.5,624.9 36.5,624.9 40.5,628.0 44.5,632.0 48.5,633.9 52.5,627.7 56.5,622.5 60.5,622.5 64.5,622.5 68.5,622.5 72.5,613.4 76.5,624.9 80.5,623.5 84.5,626.0 88.5,632.1 92.5,638.0 96.5,636.7 100.5,637.1 104.5,646.9 108.5,646.4 112.5,648.5 116.5,643.4 120.5,647.9 124.5,643.1 128.5,640.8 132.5,638.9 136.5,638.4 140.5,638.4 144.5,638.9 148.5,638.9 152.5,641.3 156.5,640.0 160.5,645.6 164.5,646.9 168.5,638.9 172.5,635.3 176.5,634.2 180.5,634.2 184.5,636.0 188.5,640.6 192.5,641.7 196.5,640.2 200.5,640.8 204.5,639.9 208.5,655.1 212.5,655.7 216.5,657.9 220.5,659.3 224.5,653.4 228.5,651.8 232.5,654.3 236.5,648.6 240.5,654.1 244.5,654.1 248.5,650.8 252.5,651.6 256.5,651.6 260.5,654.9 264.5,642.1 268.5,642.1 272.5,632.6 276.5,635.4 280.5,640.0 284.5,641.0 288.5,641.0 292.5,636.2 296.5,645.5 300.5,642.9 304.5,644.6 308.5,645.5 312.5,655.6 316.5,649.2 320.5,641.8 324.5,641.8 328.5,644.2 332.5,648.4 336.5,650.1 340.5,645.1 344.5,646.2 348.5,646.2 352.5,648.6 356.5,653.7 360.5,652.9 364.5,653.6 368.5,647.6 372.5,646.2 376.5,649.5 380.5,649.9 384.5,655.2 388.5,655.9 392.5,659.6 396.5,659.9 400.5,661.9 404.5,664.4 408.5,663.5 412.5,655.7 416.5,656.4 420.5,657.9 424.5,658.6 428.5,648.4 432.5,652.9 436.5,653.2 440.5,650.8 444.5,651.6 448.5,657.4 452.5,661.8 456.5,665.2 460.5,660.1 464.5,657.3 468.5,653.8 472.5,643.4 476.5,648.0 480.5,637.5 484.5,633.1 488.5,632.7 492.5,633.5 496.5,638.4 500.5,634.8 504.5,643.6 508.5,650.7 512.5,646.8 516.5,647.6 520.5,652.4 524.5,648.4 528.5,649.1 532.5,646.3 536.5,654.1 540.5,653.6 544.5,639.4 548.5,639.9 552.5,645.0 556.5,643.2 560.5,646.9 564.5,646.1 568.5,649.0 572.5,650.9 576.5,653.7 580.5,646.3 584.5,645.9 588.5,645.9 592.5,637.4 596.5,637.0 600.5,631.5 604.5,633.6 608.5,638.4 612.5,638.7 616.5,639.7 620.5,642.0 624.5,648.5 628.5,653.3 632.5,655.6 636.5,656.1 640.5,644.4 644.5,647.9 648.5,644.0 652.5,646.6 656.5,645.0 660.5,646.5 664.5,650.7 668.5,653.1 672.5,652.7 676.5,646.4 680.5,649.5 684.5,650.2 688.5,641.3 692.5,640.9 696.5,643.0 700.5,645.0 704.5,644.1 708.5,643.1 712.5,640.7 716.5,645.1 720.5,646.4 724.5,649.7 728.5,653.4 732.5,653.8 736.5,650.3 740.5,650.3 744.5,649.6 748.5,642.3 752.5,642.7 756.5,642.7 760.5,644.5 764.5,646.2 768.5,650.6 772.5,647.7 776.5,646.2 780.5,645.4 784.5,637.5 788.5,636.2 792.5,639.1 796.5,644.8 800.5,644.8 804.5,636.3 808.5,638.5 812.5,646.1 816.5,648.2 820.5,646.7 824.5,644.8 828.5,656.4 832.5,658.1 836.5,652.7 840.5,645.5 844.5,648.8 848.5,644.8 852.5,641.0 856.5,645.4 860.5,643.7 864.5,640.4 868.5,637.3 872.5,636.3 876.5,632.2 880.5,638.3 884.5,642.4 888.5,640.7 892.5,631.9 896.5,631.0 900.5,633.0 904.5,638.8 908.5,631.9 912.5,637.3 916.5,644.5 920.5,641.7 924.5,635.0 928.5,637.8 932.5,637.8 936.5,634.3 940.5,637.9 944.5,638.3 948.5,643.1 952.5,646.9 956.5,644.8 960.5,646.8 964.5,645.6 968.5,646.0 972.5,649.5 976.5,642.4 980.5,635.4 984.5,628.4 988.5,631.9 992.5,631.1 996.5,627.9 1000.5,631.2 1004.5,633.1 1008.5,631.7 1012.5,626.9 1016.5,624.9 1020.5,630.7 1024.5,628.5 1028.5,630.6 1032.5,629.2 1036.5,618.6 1040.5,620.3 1044.5,614.2 1048.5,625.1 1052.5,625.5 1056.5,631.5 1060.5,628.6 1064.5,629.5 1068.5,628.7 1072.5,629.2 1076.5,626.7 1080.5,627.8 1084.5,626.5 1088.5,627.7 1092.5,629.5 1096.5,626.5 1100.5,622.7 1104.5,616.5 1108.5,619.9 1112.5,620.6 1116.5,613.1 1120.5,613.1 1124.5,617.3 1128.5,615.3 1132.5,616.7 1136.5,616.3 1140.5,624.3 1144.5,630.5 1148.5,628.0 1152.5,624.3 1156.5,625.6 1160.5,625.1 1164.5,628.6 1168.5,631.2 1172.5,638.4 1176.5,638.4 1180.5,640.1 1184.5,637.9 1188.5,643.5 1192.5,647.3 1196.5,650.0 1200.5,649.1 1204.5,649.1 1208.5,650.1 1212.5,653.8 1216.5,651.8 1220.5,653.2 1224.5,655.4 1228.5,653.2 1232.5,652.1 1236.5,650.9 1240.5,641.2 1244.5,641.9 1248.5,649.4 1252.5,661.0 1256.5,660.1 1260.5,661.7 1264.5,651.7 1268.5,650.9" fill="none" stroke="#1e90ff" stroke-width="1" /><polyline points="3.6,710.9 4.5,710.9 8.5,710.0 12.5,709.6 16.5,709.5 20.5,709.9 24.5,710.7 28.5,711.7 32.5,712.8 36.5,714.1 40.5,714.3 44.5,714.3 48.5,714.3 52.5,714.3 56.5,713.7 60.5,712.9 64.5,712.1 68.5,711.4 72.5,710.3 76.5,709.1 80.5,707.7 84.5,706.2 88.5,705.1 92.5,704.9 96.5,705.4 100.5,706.5 104.5,708.5 108.5,711.9 112.5,716.0 116.5,720.4 120.5,725.3 124.5,730.0 128.5,734.1 132.5,737.6 136.5,740.7 140.5,742.8 144.5,744.1 148.5,744.6 152.5,744.8 156.5,744.4 160.5,744.0 164.5,743.8 168.5,743.5 172.5,743.2 176.5,742.7 180.5,742.0 184.5,741.4 188.5,740.8 192.5,740.3 196.5,739.6 200.5,738.8 204.5,738.0 208.5,738.2 212.5,739.1 216.5,740.7 220.5,742.9 224.5,745.3 228.5,747.7 232.5,750.2 236.5,752.6 240.5,755.3 244.5,757.5 248.5,759.2 252.5,760.2 256.5,760.8 260.5,761.2 264.5,761.2 268.5,760.8 272.5,759.9 276.5,758.3 280.5,756.6 284.5,754.7 288.5,752.8 292.5,750.7 296.5,748.7 300.5,747.1 304.5,745.8 308.5,745.2 312.5,745.7 316.5,746.5 320.5,747.3 324.5,748.1 328.5,749.1 332.5,750.2 336.5,751.5 340.5,752.7 344.5,753.8 348.5,754.2 352.5,754.5 356.5,755.1 360.5,756.1 364.5,757.2 368.5,758.0 372.5,758.4 376.5,758.8 380.5,759.2 384.5,759.8 388.5,760.6 392.5,761.4 396.5,762.3 400.5,763.4 404.5,764.9 408.5,766.9 412.5,768.8 416.5,770.6 420.5,772.2 424.5,773.6 428.5,774.3 432.5,774.6 436.5,774.5 440.5,773.9 444.5,772.8 448.5,772.0 452.5,771.6 456.5,771.9 460.5,772.6 464.5,773.6 468.5,774.6 472.5,775.2 476.5,775.8 480.5,776.0 484.5,775.2 488.5,773.3 492.5,770.2 496.5,766.6 500.5,762.7 504.5,759.0 508.5,756.6 512.5,754.6 516.5,753.6 520.5,754.0 524.5,755.3 528.5,757.3 532.5,759.5 536.5,762.7 540.5,766.1 544.5,768.3 548.5,769.8 552.5,771.0 556.5,771.5 560.5,772.0 564.5,772.3 568.5,772.9 572.5,773.1 576.5,773.4 580.5,774.1 584.5,775.0 588.5,775.7 592.5,775.9 596.5,775.3 600.5,773.8 604.5,771.5 608.5,768.8 612.5,765.4 616.5,761.9 620.5,758.7 624.5,756.1 628.5,755.0 632.5,755.3 636.5,757.0 640.5,759.2 644.5,761.7 648.5,764.3 652.5,767.0 656.5,769.6 660.5,771.7 664.5,773.3 668.5,774.5 672.5,775.3 676.5,776.0 680.5,776.6 684.5,777.5 688.5,777.8 692.5,777.7 696.5,777.4 700.5,776.7 704.5,775.3 708.5,773.5 712.5,771.6 716.5,769.5 720.5,767.3 724.5,765.8 728.5,765.2 732.5,765.1 736.5,765.1 740.5,765.3 744.5,765.7 748.5,766.1 752.5,766.2 756.5,765.9 760.5,765.4 764.5,764.3 768.5,763.1 772.5,761.7 776.5,760.3 780.5,758.8 784.5,757.3 788.5,755.7 792.5,754.2 796.5,753.0 800.5,751.8 804.5,750.3 808.5,748.7 812.5,747.4 816.5,746.4 820.5,745.9 824.5,745.8 828.5,746.6 832.5,747.9 836.5,749.6 840.5,751.5 844.5,753.6 848.5,755.4 852.5,756.8 856.5,758.0 860.5,759.1 864.5,759.3 868.5,758.6 872.5,757.2 876.5,755.4 880.5,753.4 884.5,751.5 888.5,749.9 892.5,747.9 896.5,745.7 900.5,743.5 904.5,741.7 908.5,739.9 912.5,738.7 916.5,738.1 920.5,737.7 924.5,737.0 928.5,736.8 932.5,737.0 936.5,737.2 940.5,737.3 944.5,737.8 948.5,738.4 952.5,739.0 956.5,739.7 960.5,740.8 964.5,742.1 968.5,743.4 972.5,745.2 976.5,746.9 980.5,748.2 984.5,748.6 988.5,748.1 992.5,747.1 996.5,745.3 1000.5,743.1 1004.5,740.7 1008.5,737.9 1012.5,734.8 1016.5,731.8 1020.5,729.4 1024.5,727.2 1028.5,725.3 1032.5,723.9 1036.5,722.0 1040.5,719.9 1044.5,717.1 1048.5,714.6 1052.5,712.5 1056.5,710.7 1060.5,709.1 1064.5,707.8 1068.5,706.5 1072.5,706.0 1076.5,705.9 1080.5,706.6 1084.5,707.4 1088.5,708.2 1092.5,708.9 1096.5,709.5 1100.5,709.8 1104.5,709.6 1108.5,709.1 1112.5,708.5 1116.5,707.3 1120.5,705.8 1124.5,704.0 1128.5,702.0 1132.5,699.9 1136.5,697.9 1140.5,696.6 1144.5,695.9 1148.5,695.6 1152.5,696.0 1156.5,696.8 1160.5,697.8 1164.5,699.3 1168.5,701.0 1172.5,703.3 1176.5,705.8 1180.5,708.1 1184.5,710.5 1188.5,713.2 1192.5,716.2 1196.5,719.6 1200.5,723.1 1204.5,726.6 1208.5,729.8 1212.5,733.0 1216.5,736.0 1220.5,738.9 1224.5,741.6 1228.5,743.9 1232.5,745.8 1236.5,747.3 1240.5,748.3 1244.5,748.8 1248.5,749.1 1252.5,749.9 1256.5,751.0 1260.5,752.3 1264.5,753.6 1268.5,754.8" fill="none" stroke="#ff0000" stroke-width="1" stroke-dasharray="3,3"/></g>
<g shape-rendering="crispEdges">
<rect x="3.5" y="24.5" width="1593" height="556" fill="none" stroke="#000"/>
<rect x="3.5" y="582.5" width="1593" height="102" fill="none" stroke="#000"/>
<rect x="3.5" y="686.5" width="1593" height="101" fill="none" stroke="#000"/>
<rect x="1597" y="49" width="3" height="1" fill="#000"/><text x="1602" y="53" class="ax" textLength="33" lengthAdjust="spacingAndGlyphs">7.19890</text><rect x="1597" y="82" width="3" height="1" fill="#000"/><text x="1602" y="86" class="ax" textLength="33" lengthAdjust="spacingAndGlyphs">7.14790</text><rect x="1597" y="115" width="3" height="1" fill="#000"/><text x="1602" y="119" class="ax" textLength="33" lengthAdjust="spacingAndGlyphs">7.09690</text><rect x="1597" y="148" width="3" height="1" fill="#000"/><text x="1602" y="152" class="ax" textLength="33" lengthAdjust="spacingAndGlyphs">7.04590</text><rect x="1597" y="181" width="3" height="1" fill="#000"/><text x="1602" y="185" class="ax" textLength="33" lengthAdjust="spacingAndGlyphs">6.99490</text><rect x="1597" y="214" width="3" height="1" fill="#000"/><text x="1602" y="218" class="ax" textLength="33" lengthAdjust="spacingAndGlyphs">6.94390</text><rect x="1597" y="280" width="3" height="1" fill="#000"/><text x="1602" y="284" class="ax" textLength="33" lengthAdjust="spacingAndGlyphs">6.84190</text><rect x="1597" y="313" width="3" height="1" fill="#000"/><text x="1602" y="317" class="ax" textLength="33" lengthAdjust="spacingAndGlyphs">6.79090</text><rect x="1597" y="346" width="3" height="1" fill="#000"/><text x="1602" y="350" class="ax" textLength="33" lengthAdjust="spacingAndGlyphs">6.73990</text><rect x="1597" y="379" width="3" height="1" fill="#000"/><text x="1602" y="383" class="ax" textLength="33" lengthAdjust="spacingAndGlyphs">6.68890</text><rect x="1597" y="412" width="3" height="1" fill="#000"/><text x="1602" y="416" class="ax" textLength="33" lengthAdjust="spacingAndGlyphs">6.63790</text><rect x="1597" y="445" width="3" height="1" fill="#000"/><text x="1602" y="449" class="ax" textLength="33" lengthAdjust="spacingAndGlyphs">6.58690</text><rect x="1597" y="478" width="3" height="1" fill="#000"/><text x="1602" y="482" class="ax" textLength="33" lengthAdjust="spacingAndGlyphs">6.53590</text><rect x="1597" y="511" width="3" height="1" fill="#000"/><text x="1602" y="515" class="ax" textLength="33" lengthAdjust="spacingAndGlyphs">6.48490</text><rect x="1597" y="544" width="3" height="1" fill="#000"/><text x="1602" y="548" class="ax" textLength="33" lengthAdjust="spacingAndGlyphs">6.43390</text><rect x="1597" y="577" width="3" height="1" fill="#000"/><text x="1602" y="581" class="ax" textLength="33" lengthAdjust="spacingAndGlyphs">6.38440</text><rect x="1598" y="172" width="40" height="11" fill="#ff0000"/><text x="1602" y="181" class="ax" style="fill:#fff;stroke:#fff" textLength="33" lengthAdjust="spacingAndGlyphs">7.00029</text><rect x="1598" y="244" width="40" height="11" fill="#ff0000"/><text x="1602" y="253" class="ax" style="fill:#fff;stroke:#fff" textLength="33" lengthAdjust="spacingAndGlyphs">6.88897</text><rect x="1598" y="326" width="40" height="11" fill="#ff0000"/><text x="1602" y="335" class="ax" style="fill:#fff;stroke:#fff" textLength="33" lengthAdjust="spacingAndGlyphs">6.76157</text><rect x="1598" y="413" width="40" height="11" fill="#ff0000"/><text x="1602" y="422" class="ax" style="fill:#fff;stroke:#fff" textLength="33" lengthAdjust="spacingAndGlyphs">6.62709</text><rect x="1598" y="482" width="40" height="11" fill="#00ff00"/><text x="1602" y="491" class="ax" style="fill:#fff;stroke:#fff" textLength="33" lengthAdjust="spacingAndGlyphs">6.52138</text><rect x="1598" y="544" width="40" height="11" fill="#000000"/><text x="1602" y="553" class="ax" style="fill:#fff;stroke:#fff" textLength="33" lengthAdjust="spacingAndGlyphs">6.42743</text><rect x="1598" y="560" width="40" height="11" fill="#0000ff"/><text x="1602" y="569" class="ax" style="fill:#fff;stroke:#fff" textLength="33" lengthAdjust="spacingAndGlyphs">6.40104</text><rect x="1597" y="583" width="3" height="1" fill="#000"/><rect x="1597" y="613" width="3" height="1" fill="#000"/><rect x="1597" y="653" width="3" height="1" fill="#000"/><rect x="1597" y="683" width="3" height="1" fill="#000"/><rect x="1597" y="688" width="3" height="1" fill="#000"/><rect x="1597" y="726" width="3" height="1" fill="#000"/><rect x="4" y="788" width="1" height="3" fill="#000"/><text x="3" y="800" class="ax" style="letter-spacing:0;font-size:9.3px">7 May 2020</text><rect x="68" y="788" width="1" height="3" fill="#000"/><text x="67" y="800" class="ax" style="letter-spacing:0;font-size:9.3px">26 May 2020</text><rect x="132" y="788" width="1" height="3" fill="#000"/><text x="131" y="800" class="ax" style="letter-spacing:0;font-size:9.3px">13 Jun 2020</text><rect x="196" y="788" width="1" height="3" fill="#000"/><text x="195" y="800" class="ax" style="letter-spacing:0;font-size:9.3px">2 Jul 2020</text><rect x="260" y="788" width="1" height="3" fill="#000"/><text x="259" y="800" class="ax" style="letter-spacing:0;font-size:9.3px">21 Jul 2020</text><rect x="324" y="788" width="1" height="3" fill="#000"/><text x="323" y="800" class="ax" style="letter-spacing:0;font-size:9.3px">8 Aug 2020</text><rect x="388" y="788" width="1" height="3" fill="#000"/><text x="387" y="800" class="ax" style="letter-spacing:0;font-size:9.3px">27 Aug 2020</text><rect x="452" y="788" width="1" height="3" fill="#000"/><text x="451" y="800" class="ax" style="letter-spacing:0;font-size:9.3px">15 Sep 2020</text><rect x="516" y="788" width="1" height="3" fill="#000"/><text x="515" y="800" class="ax" style="letter-spacing:0;font-size:9.3px">3 Oct 2020</text><rect x="580" y="788" width="1" height="3" fill="#000"/><text x="579" y="800" class="ax" style="letter-spacing:0;font-size:9.3px">22 Oct 2020</text><rect x="644" y="788" width="1" height="3" fill="#000"/><text x="643" y="800" class="ax" style="letter-spacing:0;font-size:9.3px">10 Nov 2020</text><rect x="708" y="788" width="1" height="3" fill="#000"/><text x="707" y="800" class="ax" style="letter-spacing:0;font-size:9.3px">28 Nov 2020</text><rect x="772" y="788" width="1" height="3" fill="#000"/><text x="771" y="800" class="ax" style="letter-spacing:0;font-size:9.3px">17 Dec 2020</text><rect x="836" y="788" width="1" height="3" fill="#000"/><text x="835" y="800" class="ax" style="letter-spacing:0;font-size:9.3px">6 Jan 2021</text><rect x="900" y="788" width="1" height="3" fill="#000"/><text x="899" y="800" class="ax" style="letter-spacing:0;font-size:9.3px">25 Jan 2021</text><rect x="964" y="788" width="1" height="3" fill="#000"/><text x="963" y="800" class="ax" style="letter-spacing:0;font-size:9.3px">12 Feb 2021</text><rect x="1028" y="788" width="1" height="3" fill="#000"/><text x="1027" y="800" class="ax" style="letter-spacing:0;font-size:9.3px">3 Mar 2021</text><rect x="1092" y="788" width="1" height="3" fill="#000"/><text x="1091" y="800" class="ax" style="letter-spacing:0;font-size:9.3px">22 Mar 2021</text><rect x="1156" y="788" width="1" height="3" fill="#000"/><text x="1155" y="800" class="ax" style="letter-spacing:0;font-size:9.3px">9 Apr 2021</text><rect x="1220" y="788" width="1" height="3" fill="#000"/><text x="1219" y="800" class="ax" style="letter-spacing:0;font-size:9.3px">28 Apr 2021</text></g>
<text x="1600" y="594" class="ax">100</text><text x="1600" y="618" class="ax">70</text><text x="1600" y="658" class="ax">30</text><text x="1600" y="682" class="ax">0</text><text x="1600" y="698" class="ax">0.025623</text><text x="1600" y="730" class="ax">0.00</text><text x="1600" y="784" class="ax">-0.040687</text><polygon points="1272,25 1281,25 1276.5,30" fill="#c0c0c0"/><polygon points="7,31 14,31 10.5,35" fill="#000"/><text x="19" y="36" class="tt">USDCNH,Daily</text><text x="91" y="36" class="tt" style="letter-spacing:-0.19px">6.42748 6.43107 6.42371 6.42743</text><text x="8" y="595" class="tt" style="letter-spacing:-0.2px">RSI(14) 31.7538</text><text x="8" y="699" class="tt" style="letter-spacing:-0.17px">MACD(12,26,9) -0.024556 -0.019355</text>
</svg>
</body></html>
